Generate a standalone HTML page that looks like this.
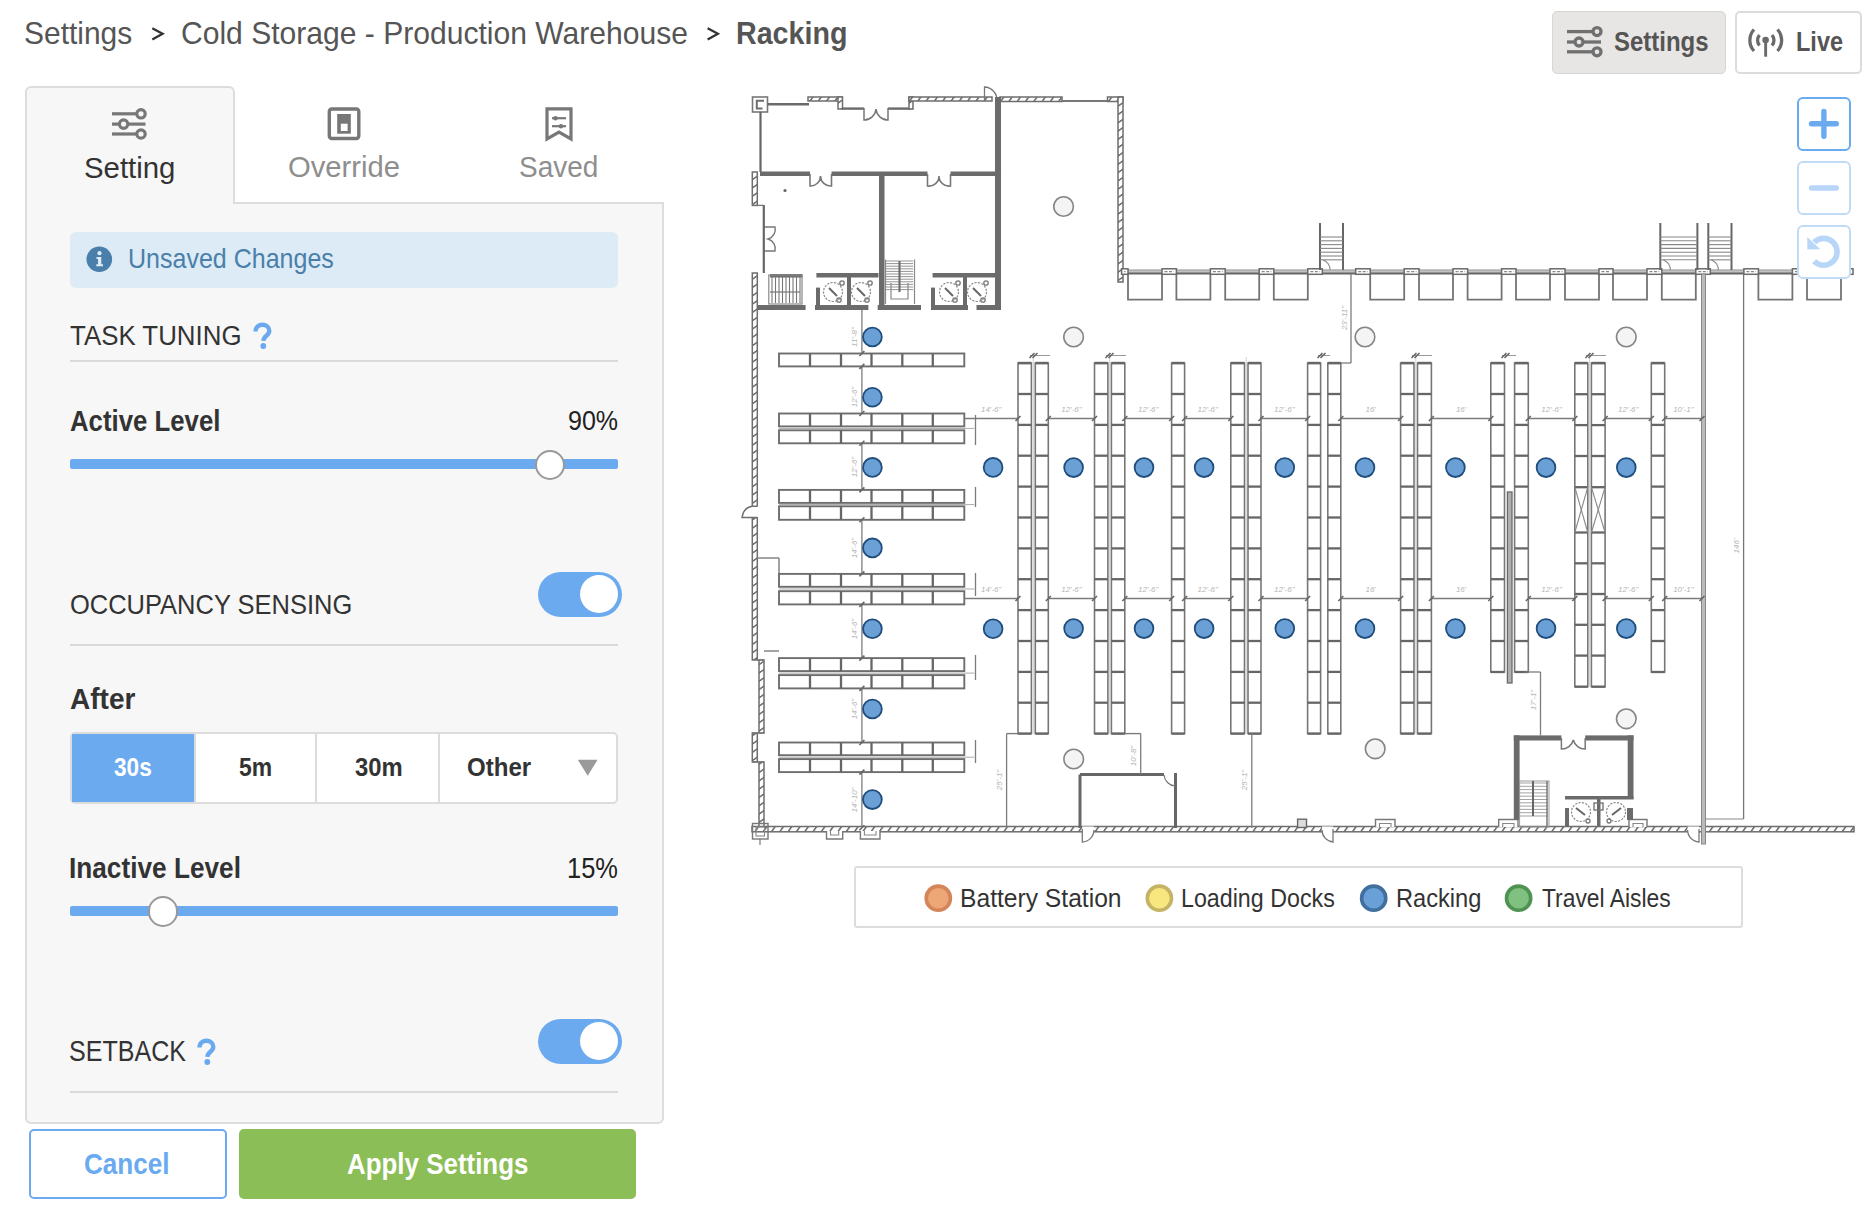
<!DOCTYPE html>
<html><head><meta charset="utf-8">
<style>
html,body{margin:0;padding:0;width:1872px;height:1216px;overflow:hidden;background:#fff;}
body{position:relative;font-family:"Liberation Sans",sans-serif;}
.t{position:absolute;white-space:nowrap;line-height:1;}
.abs{position:absolute;box-sizing:border-box;}
</style></head><body>
<svg class="abs" style="left:0;top:0" width="1872" height="1216" viewBox="0 0 1872 1216">
<defs>
<pattern id="hh" patternUnits="userSpaceOnUse" width="8.3" height="8" patternTransform="skewX(-35)">
<rect width="8.3" height="8" fill="#fff"/><rect x="0" width="2.0" height="8" fill="#707070"/></pattern>
<pattern id="hv" patternUnits="userSpaceOnUse" width="8" height="8.3" patternTransform="skewY(-35)">
<rect width="8" height="8.3" fill="#fff"/><rect y="0" width="8" height="1.9" fill="#707070"/></pattern>
</defs>
<rect x="752.5" y="97.0" width="15.0" height="15.0" fill="#fff" stroke="#777" stroke-width="1.6" />
<path d="M764,100.8 L756.8,100.8 L756.8,108.5 L762.5,108.5" stroke="#6e6e6e" stroke-width="2.0" fill="none" />
<line x1="767.5" y1="104.3" x2="809.0" y2="104.3" stroke="#6a6a6a" stroke-width="2.6" />
<rect x="808.0" y="97.0" width="34.0" height="4.0" fill="url(#hh)" stroke="#6e6e6e" stroke-width="1.5" />
<rect x="838.0" y="97.0" width="4.5" height="12.0" fill="url(#hv)" stroke="#6e6e6e" stroke-width="1.5" />
<line x1="842.0" y1="108.6" x2="864.0" y2="108.6" stroke="#6a6a6a" stroke-width="2.4" />
<line x1="888.0" y1="108.6" x2="911.0" y2="108.6" stroke="#6a6a6a" stroke-width="2.4" />
<path d="M864,108 L864,120 A12,12 0 0 0 876,109 A12,12 0 0 0 888,120 L888,108" stroke="#777" stroke-width="1.5" fill="none" />
<rect x="909.0" y="97.0" width="4.0" height="12.0" fill="url(#hv)" stroke="#6e6e6e" stroke-width="1.5" />
<rect x="909.0" y="97.0" width="83.0" height="4.0" fill="url(#hh)" stroke="#6e6e6e" stroke-width="1.5" />
<path d="M984.5,100 L984.5,87 A13,13 0 0 1 997,100" stroke="#777" stroke-width="1.3" fill="none" />
<rect x="1000.0" y="97.0" width="62.0" height="4.5" fill="url(#hh)" stroke="#6e6e6e" stroke-width="1.5" />
<line x1="1062.0" y1="101.0" x2="1107.5" y2="101.0" stroke="#777" stroke-width="2" />
<rect x="1107.5" y="97.0" width="15.5" height="4.5" fill="url(#hh)" stroke="#6e6e6e" stroke-width="1.5" />
<rect x="1118.0" y="97.0" width="5.0" height="185.0" fill="url(#hv)" stroke="#6e6e6e" stroke-width="1.5" />
<rect x="995.0" y="97.0" width="6.0" height="213.0" fill="#6b6b6b" stroke="none" stroke-width="0" />
<rect x="760.0" y="171.5" width="50.0" height="4.5" fill="#6b6b6b" stroke="none" stroke-width="0" />
<rect x="831.5" y="171.5" width="96.0" height="4.5" fill="#6b6b6b" stroke="none" stroke-width="0" />
<rect x="950.5" y="171.5" width="50.5" height="4.5" fill="#6b6b6b" stroke="none" stroke-width="0" />
<path d="M810,174 L810,186 A10,10 0 0 0 820.5,176 A10,10 0 0 0 831.5,186 L831.5,174" stroke="#777" stroke-width="1.6" fill="none" />
<path d="M927.5,174 L927.5,186 A10,10 0 0 0 939,176 A10,10 0 0 0 950.5,186 L950.5,174" stroke="#777" stroke-width="1.6" fill="none" />
<rect x="879.0" y="174.0" width="5.5" height="136.0" fill="#6b6b6b" stroke="none" stroke-width="0" />
<line x1="760.5" y1="112.0" x2="760.5" y2="172.0" stroke="#666" stroke-width="2.2" />
<rect x="756.6" y="305.0" width="49.0" height="5.0" fill="#6b6b6b" stroke="none" stroke-width="0" />
<rect x="815.0" y="305.0" width="53.4" height="5.0" fill="#6b6b6b" stroke="none" stroke-width="0" />
<rect x="877.7" y="305.0" width="43.3" height="5.0" fill="#6b6b6b" stroke="none" stroke-width="0" />
<rect x="931.0" y="305.0" width="37.0" height="5.0" fill="#6b6b6b" stroke="none" stroke-width="0" />
<rect x="976.5" y="305.0" width="24.5" height="5.0" fill="#6b6b6b" stroke="none" stroke-width="0" />
<rect x="816.4" y="273.0" width="62.1" height="4.5" fill="#6b6b6b" stroke="none" stroke-width="0" />
<rect x="932.6" y="273.0" width="64.4" height="4.5" fill="#6b6b6b" stroke="none" stroke-width="0" />
<rect x="847.0" y="275.0" width="4.0" height="33.0" fill="#6b6b6b" stroke="none" stroke-width="0" />
<rect x="963.0" y="275.0" width="4.0" height="33.0" fill="#6b6b6b" stroke="none" stroke-width="0" />
<rect x="816.0" y="287.6" width="4.0" height="20.4" fill="#6b6b6b" stroke="none" stroke-width="0" />
<rect x="931.0" y="287.6" width="4.0" height="20.4" fill="#6b6b6b" stroke="none" stroke-width="0" />
<circle cx="833" cy="292" r="9.5" fill="none" stroke="#8a8a8a" stroke-width="1.2" stroke-dasharray="2.2 1.3"/>
<line x1="829.0" y1="288.0" x2="837.0" y2="296.0" stroke="#666" stroke-width="2" />
<circle cx="839" cy="300" r="2.2" fill="none" stroke="#777" stroke-width="1.3"/>
<circle cx="842" cy="283" r="2.2" fill="none" stroke="#777" stroke-width="1.3"/>
<circle cx="861" cy="292" r="9.5" fill="none" stroke="#8a8a8a" stroke-width="1.2" stroke-dasharray="2.2 1.3"/>
<line x1="857.0" y1="288.0" x2="865.0" y2="296.0" stroke="#666" stroke-width="2" />
<circle cx="867" cy="300" r="2.2" fill="none" stroke="#777" stroke-width="1.3"/>
<circle cx="870" cy="283" r="2.2" fill="none" stroke="#777" stroke-width="1.3"/>
<circle cx="949" cy="292" r="9.5" fill="none" stroke="#8a8a8a" stroke-width="1.2" stroke-dasharray="2.2 1.3"/>
<line x1="945.0" y1="288.0" x2="953.0" y2="296.0" stroke="#666" stroke-width="2" />
<circle cx="955" cy="300" r="2.2" fill="none" stroke="#777" stroke-width="1.3"/>
<circle cx="958" cy="283" r="2.2" fill="none" stroke="#777" stroke-width="1.3"/>
<circle cx="977" cy="292" r="9.5" fill="none" stroke="#8a8a8a" stroke-width="1.2" stroke-dasharray="2.2 1.3"/>
<line x1="973.0" y1="288.0" x2="981.0" y2="296.0" stroke="#666" stroke-width="2" />
<circle cx="983" cy="300" r="2.2" fill="none" stroke="#777" stroke-width="1.3"/>
<circle cx="986" cy="283" r="2.2" fill="none" stroke="#777" stroke-width="1.3"/>
<rect x="770.0" y="274.0" width="32.5" height="3.5" fill="#6b6b6b" stroke="none" stroke-width="0" />
<rect x="768.8" y="275.0" width="33.2" height="29.0" fill="none" stroke="#888" stroke-width="1.2" />
<line x1="772.0" y1="276.0" x2="772.0" y2="303.0" stroke="#777" stroke-width="1.1" />
<line x1="775.5" y1="276.0" x2="775.5" y2="303.0" stroke="#777" stroke-width="1.1" />
<line x1="779.0" y1="276.0" x2="779.0" y2="303.0" stroke="#777" stroke-width="1.1" />
<line x1="782.5" y1="276.0" x2="782.5" y2="303.0" stroke="#777" stroke-width="1.1" />
<line x1="786.0" y1="276.0" x2="786.0" y2="303.0" stroke="#777" stroke-width="1.1" />
<line x1="789.5" y1="276.0" x2="789.5" y2="303.0" stroke="#777" stroke-width="1.1" />
<line x1="793.0" y1="276.0" x2="793.0" y2="303.0" stroke="#777" stroke-width="1.1" />
<line x1="796.5" y1="276.0" x2="796.5" y2="303.0" stroke="#777" stroke-width="1.1" />
<line x1="800.0" y1="276.0" x2="800.0" y2="303.0" stroke="#777" stroke-width="1.1" />
<line x1="770.0" y1="292.0" x2="800.0" y2="292.0" stroke="#777" stroke-width="1.2" />
<line x1="885.5" y1="259.5" x2="885.5" y2="304.0" stroke="#888" stroke-width="1.2" />
<line x1="914.5" y1="259.5" x2="914.5" y2="304.0" stroke="#888" stroke-width="1.2" />
<line x1="886.0" y1="261.0" x2="913.0" y2="261.0" stroke="#888" stroke-width="0.9" />
<line x1="886.0" y1="263.6" x2="913.0" y2="263.6" stroke="#888" stroke-width="0.9" />
<line x1="886.0" y1="266.2" x2="913.0" y2="266.2" stroke="#888" stroke-width="0.9" />
<line x1="886.0" y1="268.8" x2="913.0" y2="268.8" stroke="#888" stroke-width="0.9" />
<line x1="886.0" y1="271.4" x2="913.0" y2="271.4" stroke="#888" stroke-width="0.9" />
<line x1="886.0" y1="274.0" x2="913.0" y2="274.0" stroke="#888" stroke-width="0.9" />
<line x1="886.0" y1="276.6" x2="913.0" y2="276.6" stroke="#888" stroke-width="0.9" />
<line x1="886.0" y1="279.2" x2="913.0" y2="279.2" stroke="#888" stroke-width="0.9" />
<line x1="886.0" y1="281.8" x2="913.0" y2="281.8" stroke="#888" stroke-width="0.9" />
<line x1="886.0" y1="284.4" x2="913.0" y2="284.4" stroke="#888" stroke-width="0.9" />
<line x1="886.0" y1="287.0" x2="913.0" y2="287.0" stroke="#888" stroke-width="0.9" />
<line x1="886.0" y1="289.6" x2="913.0" y2="289.6" stroke="#888" stroke-width="0.9" />
<line x1="899.5" y1="261.0" x2="899.5" y2="292.0" stroke="#666" stroke-width="2" />
<path d="M891,283 L891,299 L908,299 L908,283" stroke="#888" stroke-width="1.2" fill="none" />
<path d="M763.8,227 L775,227 A10,10 0 0 1 768,239 A10,10 0 0 1 775,251 L763.8,251" stroke="#777" stroke-width="1.4" fill="none" />
<circle cx="785" cy="190.5" r="1.6" fill="#666"/>
<rect x="752.3" y="172.0" width="5.0" height="33.4" fill="url(#hv)" stroke="#6e6e6e" stroke-width="1.5" />
<line x1="763.8" y1="205.0" x2="763.8" y2="273.0" stroke="#666" stroke-width="2.2" />
<line x1="757.0" y1="205.4" x2="763.8" y2="205.4" stroke="#777" stroke-width="1.3" />
<rect x="752.3" y="273.0" width="5.0" height="387.0" fill="url(#hv)" stroke="#6e6e6e" stroke-width="1.5" />
<rect x="759.0" y="660.0" width="5.0" height="73.0" fill="url(#hv)" stroke="#6e6e6e" stroke-width="1.5" />
<rect x="752.3" y="733.0" width="5.0" height="29.0" fill="url(#hv)" stroke="#6e6e6e" stroke-width="1.5" />
<rect x="759.0" y="762.0" width="5.0" height="66.0" fill="url(#hv)" stroke="#6e6e6e" stroke-width="1.5" />
<line x1="757.0" y1="660.0" x2="764.0" y2="660.0" stroke="#777" stroke-width="1.3" />
<line x1="752.0" y1="733.0" x2="764.0" y2="733.0" stroke="#777" stroke-width="1.3" />
<line x1="752.0" y1="762.0" x2="764.0" y2="762.0" stroke="#777" stroke-width="1.3" />
<rect x="750.0" y="506.5" width="9.0" height="10.5" fill="#fff" stroke="none" stroke-width="0" />
<path d="M752.3,506.3 L757.3,506.3" stroke="#6e6e6e" stroke-width="1.5" fill="none" />
<path d="M752.3,506.3 C747,507 743,511 742,517.6 L757.3,517.6" stroke="#6e6e6e" stroke-width="1.5" fill="none" />
<rect x="752.0" y="826.5" width="1102.0" height="5.3" fill="url(#hh)" stroke="#6e6e6e" stroke-width="1.5" />
<rect x="752.5" y="823.5" width="15.5" height="15.5" fill="none" stroke="#777" stroke-width="1.4" />
<rect x="756.0" y="827.0" width="8.5" height="9.0" fill="none" stroke="#888" stroke-width="1.1" />
<line x1="760.0" y1="839.0" x2="760.0" y2="845.0" stroke="#777" stroke-width="1.2" />
<path d="M826.5,831 L826.5,839 L842.7,839 L842.7,831" stroke="#777" stroke-width="1.4" fill="#fff" />
<path d="M830.5,831 L830.5,835 L838.7,835 L838.7,831" stroke="#888" stroke-width="1.1" fill="none" />
<path d="M860.4,831 L860.4,839 L880,839 L880,831" stroke="#777" stroke-width="1.4" fill="#fff" />
<path d="M864.4,831 L864.4,835 L876,835 L876,831" stroke="#888" stroke-width="1.1" fill="none" />
<path d="M1375.5,827 L1375.5,819.5 L1395,819.5 L1395,827" stroke="#777" stroke-width="1.4" fill="#fff" />
<path d="M1379.5,827 L1379.5,823.5 L1391,823.5 L1391,827" stroke="#888" stroke-width="1.1" fill="none" />
<path d="M1498.7,827 L1498.7,819.5 L1518,819.5 L1518,827" stroke="#777" stroke-width="1.4" fill="#fff" />
<path d="M1502.7,827 L1502.7,823.5 L1514,823.5 L1514,827" stroke="#888" stroke-width="1.1" fill="none" />
<path d="M1629,827 L1629,819.5 L1647,819.5 L1647,827" stroke="#777" stroke-width="1.4" fill="#fff" />
<path d="M1633,827 L1633,823.5 L1643,823.5 L1643,827" stroke="#888" stroke-width="1.1" fill="none" />
<rect x="1297.6" y="819.2" width="8.9" height="8.3" fill="#ddd" stroke="#666" stroke-width="1.4" />
<rect x="1082.3" y="826.5" width="11.6" height="6.5" fill="#fff" stroke="none" stroke-width="0" />
<path d="M1082.3,829 L1082.3,842 A12,12 0 0 0 1093.9,830" stroke="#777" stroke-width="1.3" fill="none" />
<rect x="1322.0" y="826.5" width="11.0" height="6.5" fill="#fff" stroke="none" stroke-width="0" />
<path d="M1333,829 L1333,842 A12,12 0 0 1 1322,830" stroke="#777" stroke-width="1.3" fill="none" />
<rect x="1687.6" y="826.5" width="11.4" height="6.5" fill="#fff" stroke="none" stroke-width="0" />
<path d="M1699,829 L1699,842 A12,12 0 0 1 1687.6,830" stroke="#777" stroke-width="1.3" fill="none" />
<rect x="1121.6" y="269.6" width="731.4" height="3.4" fill="#c2c2c2" stroke="none" stroke-width="0" />
<line x1="1121.6" y1="270.0" x2="1853.0" y2="270.0" stroke="#9a9a9a" stroke-width="0.9" />
<line x1="1121.6" y1="273.4" x2="1853.0" y2="273.4" stroke="#666" stroke-width="2.0" />
<path d="M1128,274 L1128,299.7 L1162,299.7 L1162,274" stroke="#747474" stroke-width="1.8" fill="none" />
<path d="M1176.4,274 L1176.4,299.7 L1210.4,299.7 L1210.4,274" stroke="#747474" stroke-width="1.8" fill="none" />
<path d="M1225.2,274 L1225.2,299.7 L1259.2,299.7 L1259.2,274" stroke="#747474" stroke-width="1.8" fill="none" />
<path d="M1273.8,274 L1273.8,299.7 L1307.8,299.7 L1307.8,274" stroke="#747474" stroke-width="1.8" fill="none" />
<path d="M1370.2,274 L1370.2,299.7 L1404.2,299.7 L1404.2,274" stroke="#747474" stroke-width="1.8" fill="none" />
<path d="M1419,274 L1419,299.7 L1453,299.7 L1453,274" stroke="#747474" stroke-width="1.8" fill="none" />
<path d="M1467.6,274 L1467.6,299.7 L1501.6,299.7 L1501.6,274" stroke="#747474" stroke-width="1.8" fill="none" />
<path d="M1516,274 L1516,299.7 L1550,299.7 L1550,274" stroke="#747474" stroke-width="1.8" fill="none" />
<path d="M1565,274 L1565,299.7 L1599,299.7 L1599,274" stroke="#747474" stroke-width="1.8" fill="none" />
<path d="M1613,274 L1613,299.7 L1647,299.7 L1647,274" stroke="#747474" stroke-width="1.8" fill="none" />
<path d="M1661.8,274 L1661.8,299.7 L1695.8,299.7 L1695.8,274" stroke="#747474" stroke-width="1.8" fill="none" />
<path d="M1758.4,274 L1758.4,299.7 L1792.4,299.7 L1792.4,274" stroke="#747474" stroke-width="1.8" fill="none" />
<path d="M1807,274 L1807,299.7 L1841,299.7 L1841,274" stroke="#747474" stroke-width="1.8" fill="none" />
<rect x="1121.6" y="268.8" width="6.4" height="5.5" fill="#fff" stroke="#6a6a6a" stroke-width="1.5" />
<line x1="1124.1" y1="271.6" x2="1125.5" y2="271.6" stroke="#888" stroke-width="1.2" stroke-dasharray="3 1.5"/>
<rect x="1162.0" y="268.8" width="14.4" height="5.5" fill="#fff" stroke="#6a6a6a" stroke-width="1.5" />
<line x1="1164.5" y1="271.6" x2="1173.9" y2="271.6" stroke="#888" stroke-width="1.2" stroke-dasharray="3 1.5"/>
<rect x="1210.4" y="268.8" width="14.8" height="5.5" fill="#fff" stroke="#6a6a6a" stroke-width="1.5" />
<line x1="1212.9" y1="271.6" x2="1222.7" y2="271.6" stroke="#888" stroke-width="1.2" stroke-dasharray="3 1.5"/>
<rect x="1259.2" y="268.8" width="14.6" height="5.5" fill="#fff" stroke="#6a6a6a" stroke-width="1.5" />
<line x1="1261.7" y1="271.6" x2="1271.3" y2="271.6" stroke="#888" stroke-width="1.2" stroke-dasharray="3 1.5"/>
<rect x="1307.8" y="268.8" width="14.5" height="5.5" fill="#fff" stroke="#6a6a6a" stroke-width="1.5" />
<line x1="1310.3" y1="271.6" x2="1319.8" y2="271.6" stroke="#888" stroke-width="1.2" stroke-dasharray="3 1.5"/>
<rect x="1355.7" y="268.8" width="14.5" height="5.5" fill="#fff" stroke="#6a6a6a" stroke-width="1.5" />
<line x1="1358.2" y1="271.6" x2="1367.7" y2="271.6" stroke="#888" stroke-width="1.2" stroke-dasharray="3 1.5"/>
<rect x="1404.2" y="268.8" width="14.8" height="5.5" fill="#fff" stroke="#6a6a6a" stroke-width="1.5" />
<line x1="1406.7" y1="271.6" x2="1416.5" y2="271.6" stroke="#888" stroke-width="1.2" stroke-dasharray="3 1.5"/>
<rect x="1453.0" y="268.8" width="14.6" height="5.5" fill="#fff" stroke="#6a6a6a" stroke-width="1.5" />
<line x1="1455.5" y1="271.6" x2="1465.1" y2="271.6" stroke="#888" stroke-width="1.2" stroke-dasharray="3 1.5"/>
<rect x="1501.6" y="268.8" width="14.4" height="5.5" fill="#fff" stroke="#6a6a6a" stroke-width="1.5" />
<line x1="1504.1" y1="271.6" x2="1513.5" y2="271.6" stroke="#888" stroke-width="1.2" stroke-dasharray="3 1.5"/>
<rect x="1550.0" y="268.8" width="15.0" height="5.5" fill="#fff" stroke="#6a6a6a" stroke-width="1.5" />
<line x1="1552.5" y1="271.6" x2="1562.5" y2="271.6" stroke="#888" stroke-width="1.2" stroke-dasharray="3 1.5"/>
<rect x="1599.0" y="268.8" width="14.0" height="5.5" fill="#fff" stroke="#6a6a6a" stroke-width="1.5" />
<line x1="1601.5" y1="271.6" x2="1610.5" y2="271.6" stroke="#888" stroke-width="1.2" stroke-dasharray="3 1.5"/>
<rect x="1647.0" y="268.8" width="14.8" height="5.5" fill="#fff" stroke="#6a6a6a" stroke-width="1.5" />
<line x1="1649.5" y1="271.6" x2="1659.3" y2="271.6" stroke="#888" stroke-width="1.2" stroke-dasharray="3 1.5"/>
<rect x="1695.8" y="268.8" width="14.5" height="5.5" fill="#fff" stroke="#6a6a6a" stroke-width="1.5" />
<line x1="1698.3" y1="271.6" x2="1707.8" y2="271.6" stroke="#888" stroke-width="1.2" stroke-dasharray="3 1.5"/>
<rect x="1743.9" y="268.8" width="14.5" height="5.5" fill="#fff" stroke="#6a6a6a" stroke-width="1.5" />
<line x1="1746.4" y1="271.6" x2="1755.9" y2="271.6" stroke="#888" stroke-width="1.2" stroke-dasharray="3 1.5"/>
<rect x="1792.4" y="268.8" width="14.6" height="5.5" fill="#fff" stroke="#6a6a6a" stroke-width="1.5" />
<line x1="1794.9" y1="271.6" x2="1804.5" y2="271.6" stroke="#888" stroke-width="1.2" stroke-dasharray="3 1.5"/>
<rect x="1841.0" y="268.8" width="12.0" height="5.5" fill="#fff" stroke="#6a6a6a" stroke-width="1.5" />
<line x1="1843.5" y1="271.6" x2="1850.5" y2="271.6" stroke="#888" stroke-width="1.2" stroke-dasharray="3 1.5"/>
<line x1="1320.0" y1="223.0" x2="1320.0" y2="270.0" stroke="#666" stroke-width="2" />
<line x1="1343.0" y1="223.0" x2="1343.0" y2="270.0" stroke="#666" stroke-width="2" />
<line x1="1320.0" y1="237.0" x2="1343.0" y2="237.0" stroke="#888" stroke-width="1.1" />
<line x1="1320.0" y1="240.8" x2="1343.0" y2="240.8" stroke="#888" stroke-width="1.1" />
<line x1="1320.0" y1="244.6" x2="1343.0" y2="244.6" stroke="#888" stroke-width="1.1" />
<line x1="1320.0" y1="248.4" x2="1343.0" y2="248.4" stroke="#888" stroke-width="1.1" />
<line x1="1320.0" y1="252.2" x2="1343.0" y2="252.2" stroke="#888" stroke-width="1.1" />
<line x1="1320.0" y1="256.0" x2="1343.0" y2="256.0" stroke="#888" stroke-width="1.1" />
<line x1="1320.0" y1="259.8" x2="1343.0" y2="259.8" stroke="#888" stroke-width="1.1" />
<path d="M1323,260 A10,10 0 0 1 1330,270" stroke="#888" stroke-width="1.1" fill="none" />
<line x1="1660.3" y1="223.0" x2="1660.3" y2="270.0" stroke="#666" stroke-width="2" />
<line x1="1697.4" y1="223.0" x2="1697.4" y2="270.0" stroke="#666" stroke-width="2" />
<line x1="1660.3" y1="237.0" x2="1697.4" y2="237.0" stroke="#888" stroke-width="1.1" />
<line x1="1660.3" y1="240.8" x2="1697.4" y2="240.8" stroke="#888" stroke-width="1.1" />
<line x1="1660.3" y1="244.6" x2="1697.4" y2="244.6" stroke="#888" stroke-width="1.1" />
<line x1="1660.3" y1="248.4" x2="1697.4" y2="248.4" stroke="#888" stroke-width="1.1" />
<line x1="1660.3" y1="252.2" x2="1697.4" y2="252.2" stroke="#888" stroke-width="1.1" />
<line x1="1660.3" y1="256.0" x2="1697.4" y2="256.0" stroke="#888" stroke-width="1.1" />
<line x1="1660.3" y1="259.8" x2="1697.4" y2="259.8" stroke="#888" stroke-width="1.1" />
<path d="M1663.3,260 A10,10 0 0 1 1670.3,270" stroke="#888" stroke-width="1.1" fill="none" />
<line x1="1708.3" y1="223.0" x2="1708.3" y2="270.0" stroke="#666" stroke-width="2" />
<line x1="1731.5" y1="223.0" x2="1731.5" y2="270.0" stroke="#666" stroke-width="2" />
<line x1="1708.3" y1="237.0" x2="1731.5" y2="237.0" stroke="#888" stroke-width="1.1" />
<line x1="1708.3" y1="240.8" x2="1731.5" y2="240.8" stroke="#888" stroke-width="1.1" />
<line x1="1708.3" y1="244.6" x2="1731.5" y2="244.6" stroke="#888" stroke-width="1.1" />
<line x1="1708.3" y1="248.4" x2="1731.5" y2="248.4" stroke="#888" stroke-width="1.1" />
<line x1="1708.3" y1="252.2" x2="1731.5" y2="252.2" stroke="#888" stroke-width="1.1" />
<line x1="1708.3" y1="256.0" x2="1731.5" y2="256.0" stroke="#888" stroke-width="1.1" />
<line x1="1708.3" y1="259.8" x2="1731.5" y2="259.8" stroke="#888" stroke-width="1.1" />
<path d="M1711.3,260 A10,10 0 0 1 1718.3,270" stroke="#888" stroke-width="1.1" fill="none" />
<rect x="1701.5" y="274.0" width="4.0" height="570.0" fill="#bbb" stroke="#888" stroke-width="1.0" />
<line x1="1743.6" y1="274.0" x2="1743.6" y2="819.0" stroke="#777" stroke-width="1.3" />
<line x1="1705.0" y1="819.0" x2="1743.6" y2="819.0" stroke="#888" stroke-width="1" />
<rect x="1513.8" y="735.4" width="5.8" height="84.4" fill="#6b6b6b" stroke="none" stroke-width="0" />
<rect x="1513.8" y="735.4" width="47.6" height="5.1" fill="#6b6b6b" stroke="none" stroke-width="0" />
<rect x="1585.2" y="735.4" width="48.3" height="5.1" fill="#6b6b6b" stroke="none" stroke-width="0" />
<path d="M1561.4,738 L1561.4,749 A12,12 0 0 0 1573.3,740 A12,12 0 0 0 1585.2,749 L1585.2,738" stroke="#777" stroke-width="1.5" fill="none" />
<rect x="1627.7" y="735.4" width="5.8" height="63.6" fill="#6b6b6b" stroke="none" stroke-width="0" />
<rect x="1565.0" y="796.0" width="68.5" height="3.5" fill="#6b6b6b" stroke="none" stroke-width="0" />
<rect x="1565.0" y="808.0" width="4.0" height="19.0" fill="#6b6b6b" stroke="none" stroke-width="0" />
<rect x="1627.0" y="808.0" width="6.0" height="12.0" fill="#6b6b6b" stroke="none" stroke-width="0" />
<rect x="1597.0" y="799.0" width="3.5" height="28.0" fill="#6b6b6b" stroke="none" stroke-width="0" />
<circle cx="1581" cy="812" r="9.5" fill="none" stroke="#8a8a8a" stroke-width="1.2" stroke-dasharray="2.2 1.3"/>
<line x1="1576.0" y1="808.0" x2="1585.0" y2="815.0" stroke="#666" stroke-width="2" />
<circle cx="1588" cy="821" r="2" fill="none" stroke="#777" stroke-width="1.3"/>
<circle cx="1616" cy="812" r="9.5" fill="none" stroke="#8a8a8a" stroke-width="1.2" stroke-dasharray="2.2 1.3"/>
<line x1="1621.0" y1="808.0" x2="1612.0" y2="815.0" stroke="#666" stroke-width="2" />
<circle cx="1609" cy="821" r="2" fill="none" stroke="#777" stroke-width="1.3"/>
<rect x="1594.0" y="803.0" width="9.0" height="7.0" fill="none" stroke="#777" stroke-width="1.4" />
<rect x="1519.6" y="781.0" width="29.4" height="46.0" fill="none" stroke="#999" stroke-width="1" />
<line x1="1520.0" y1="783.0" x2="1548.0" y2="783.0" stroke="#999" stroke-width="0.9" />
<line x1="1520.0" y1="786.3" x2="1548.0" y2="786.3" stroke="#999" stroke-width="0.9" />
<line x1="1520.0" y1="789.6" x2="1548.0" y2="789.6" stroke="#999" stroke-width="0.9" />
<line x1="1520.0" y1="792.9" x2="1548.0" y2="792.9" stroke="#999" stroke-width="0.9" />
<line x1="1520.0" y1="796.2" x2="1548.0" y2="796.2" stroke="#999" stroke-width="0.9" />
<line x1="1520.0" y1="799.5" x2="1548.0" y2="799.5" stroke="#999" stroke-width="0.9" />
<line x1="1520.0" y1="802.8" x2="1548.0" y2="802.8" stroke="#999" stroke-width="0.9" />
<line x1="1520.0" y1="806.1" x2="1548.0" y2="806.1" stroke="#999" stroke-width="0.9" />
<line x1="1520.0" y1="809.4" x2="1548.0" y2="809.4" stroke="#999" stroke-width="0.9" />
<line x1="1520.0" y1="812.7" x2="1548.0" y2="812.7" stroke="#999" stroke-width="0.9" />
<line x1="1520.0" y1="816.0" x2="1548.0" y2="816.0" stroke="#999" stroke-width="0.9" />
<line x1="1533.0" y1="781.0" x2="1533.0" y2="816.0" stroke="#666" stroke-width="2" />
<line x1="1547.0" y1="781.0" x2="1547.0" y2="827.0" stroke="#777" stroke-width="1.5" />
<line x1="1080.0" y1="774.5" x2="1164.0" y2="774.5" stroke="#666" stroke-width="3" />
<line x1="1080.0" y1="774.5" x2="1080.0" y2="828.0" stroke="#666" stroke-width="3" />
<line x1="1175.5" y1="773.0" x2="1175.5" y2="828.0" stroke="#666" stroke-width="3" />
<path d="M1164,775 A12,12 0 0 0 1175,786" stroke="#777" stroke-width="1.2" fill="none" />
<rect x="779.0" y="353.5" width="185.3" height="12.9" fill="none" stroke="#6e6e6e" stroke-width="1.9" />
<line x1="810.0" y1="353.5" x2="810.0" y2="366.4" stroke="#666" stroke-width="2.3" />
<line x1="841.0" y1="353.5" x2="841.0" y2="366.4" stroke="#666" stroke-width="2.3" />
<line x1="871.5" y1="353.5" x2="871.5" y2="366.4" stroke="#666" stroke-width="2.3" />
<line x1="902.3" y1="353.5" x2="902.3" y2="366.4" stroke="#666" stroke-width="2.3" />
<line x1="932.8" y1="353.5" x2="932.8" y2="366.4" stroke="#666" stroke-width="2.3" />
<rect x="779.0" y="413.5" width="185.3" height="12.9" fill="none" stroke="#6e6e6e" stroke-width="1.9" />
<line x1="810.0" y1="413.5" x2="810.0" y2="426.4" stroke="#666" stroke-width="2.3" />
<line x1="841.0" y1="413.5" x2="841.0" y2="426.4" stroke="#666" stroke-width="2.3" />
<line x1="871.5" y1="413.5" x2="871.5" y2="426.4" stroke="#666" stroke-width="2.3" />
<line x1="902.3" y1="413.5" x2="902.3" y2="426.4" stroke="#666" stroke-width="2.3" />
<line x1="932.8" y1="413.5" x2="932.8" y2="426.4" stroke="#666" stroke-width="2.3" />
<rect x="779.0" y="430.3" width="185.3" height="13.0" fill="none" stroke="#6e6e6e" stroke-width="1.9" />
<line x1="810.0" y1="430.3" x2="810.0" y2="443.3" stroke="#666" stroke-width="2.3" />
<line x1="841.0" y1="430.3" x2="841.0" y2="443.3" stroke="#666" stroke-width="2.3" />
<line x1="871.5" y1="430.3" x2="871.5" y2="443.3" stroke="#666" stroke-width="2.3" />
<line x1="902.3" y1="430.3" x2="902.3" y2="443.3" stroke="#666" stroke-width="2.3" />
<line x1="932.8" y1="430.3" x2="932.8" y2="443.3" stroke="#666" stroke-width="2.3" />
<line x1="779.0" y1="428.4" x2="974.3" y2="428.4" stroke="#aaa" stroke-width="1" />
<rect x="779.0" y="489.9" width="185.3" height="13.0" fill="none" stroke="#6e6e6e" stroke-width="1.9" />
<line x1="810.0" y1="489.9" x2="810.0" y2="502.9" stroke="#666" stroke-width="2.3" />
<line x1="841.0" y1="489.9" x2="841.0" y2="502.9" stroke="#666" stroke-width="2.3" />
<line x1="871.5" y1="489.9" x2="871.5" y2="502.9" stroke="#666" stroke-width="2.3" />
<line x1="902.3" y1="489.9" x2="902.3" y2="502.9" stroke="#666" stroke-width="2.3" />
<line x1="932.8" y1="489.9" x2="932.8" y2="502.9" stroke="#666" stroke-width="2.3" />
<rect x="779.0" y="506.3" width="185.3" height="13.5" fill="none" stroke="#6e6e6e" stroke-width="1.9" />
<line x1="810.0" y1="506.3" x2="810.0" y2="519.8" stroke="#666" stroke-width="2.3" />
<line x1="841.0" y1="506.3" x2="841.0" y2="519.8" stroke="#666" stroke-width="2.3" />
<line x1="871.5" y1="506.3" x2="871.5" y2="519.8" stroke="#666" stroke-width="2.3" />
<line x1="902.3" y1="506.3" x2="902.3" y2="519.8" stroke="#666" stroke-width="2.3" />
<line x1="932.8" y1="506.3" x2="932.8" y2="519.8" stroke="#666" stroke-width="2.3" />
<line x1="779.0" y1="504.6" x2="974.3" y2="504.6" stroke="#aaa" stroke-width="1" />
<rect x="779.0" y="573.9" width="185.3" height="12.9" fill="none" stroke="#6e6e6e" stroke-width="1.9" />
<line x1="810.0" y1="573.9" x2="810.0" y2="586.8" stroke="#666" stroke-width="2.3" />
<line x1="841.0" y1="573.9" x2="841.0" y2="586.8" stroke="#666" stroke-width="2.3" />
<line x1="871.5" y1="573.9" x2="871.5" y2="586.8" stroke="#666" stroke-width="2.3" />
<line x1="902.3" y1="573.9" x2="902.3" y2="586.8" stroke="#666" stroke-width="2.3" />
<line x1="932.8" y1="573.9" x2="932.8" y2="586.8" stroke="#666" stroke-width="2.3" />
<rect x="779.0" y="591.2" width="185.3" height="13.2" fill="none" stroke="#6e6e6e" stroke-width="1.9" />
<line x1="810.0" y1="591.2" x2="810.0" y2="604.4" stroke="#666" stroke-width="2.3" />
<line x1="841.0" y1="591.2" x2="841.0" y2="604.4" stroke="#666" stroke-width="2.3" />
<line x1="871.5" y1="591.2" x2="871.5" y2="604.4" stroke="#666" stroke-width="2.3" />
<line x1="902.3" y1="591.2" x2="902.3" y2="604.4" stroke="#666" stroke-width="2.3" />
<line x1="932.8" y1="591.2" x2="932.8" y2="604.4" stroke="#666" stroke-width="2.3" />
<line x1="779.0" y1="589.0" x2="974.3" y2="589.0" stroke="#aaa" stroke-width="1" />
<rect x="779.0" y="658.1" width="185.3" height="13.0" fill="none" stroke="#6e6e6e" stroke-width="1.9" />
<line x1="810.0" y1="658.1" x2="810.0" y2="671.1" stroke="#666" stroke-width="2.3" />
<line x1="841.0" y1="658.1" x2="841.0" y2="671.1" stroke="#666" stroke-width="2.3" />
<line x1="871.5" y1="658.1" x2="871.5" y2="671.1" stroke="#666" stroke-width="2.3" />
<line x1="902.3" y1="658.1" x2="902.3" y2="671.1" stroke="#666" stroke-width="2.3" />
<line x1="932.8" y1="658.1" x2="932.8" y2="671.1" stroke="#666" stroke-width="2.3" />
<rect x="779.0" y="675.1" width="185.3" height="13.3" fill="none" stroke="#6e6e6e" stroke-width="1.9" />
<line x1="810.0" y1="675.1" x2="810.0" y2="688.4" stroke="#666" stroke-width="2.3" />
<line x1="841.0" y1="675.1" x2="841.0" y2="688.4" stroke="#666" stroke-width="2.3" />
<line x1="871.5" y1="675.1" x2="871.5" y2="688.4" stroke="#666" stroke-width="2.3" />
<line x1="902.3" y1="675.1" x2="902.3" y2="688.4" stroke="#666" stroke-width="2.3" />
<line x1="932.8" y1="675.1" x2="932.8" y2="688.4" stroke="#666" stroke-width="2.3" />
<line x1="779.0" y1="673.1" x2="974.3" y2="673.1" stroke="#aaa" stroke-width="1" />
<rect x="779.0" y="742.5" width="185.3" height="12.7" fill="none" stroke="#6e6e6e" stroke-width="1.9" />
<line x1="810.0" y1="742.5" x2="810.0" y2="755.2" stroke="#666" stroke-width="2.3" />
<line x1="841.0" y1="742.5" x2="841.0" y2="755.2" stroke="#666" stroke-width="2.3" />
<line x1="871.5" y1="742.5" x2="871.5" y2="755.2" stroke="#666" stroke-width="2.3" />
<line x1="902.3" y1="742.5" x2="902.3" y2="755.2" stroke="#666" stroke-width="2.3" />
<line x1="932.8" y1="742.5" x2="932.8" y2="755.2" stroke="#666" stroke-width="2.3" />
<rect x="779.0" y="759.1" width="185.3" height="13.0" fill="none" stroke="#6e6e6e" stroke-width="1.9" />
<line x1="810.0" y1="759.1" x2="810.0" y2="772.1" stroke="#666" stroke-width="2.3" />
<line x1="841.0" y1="759.1" x2="841.0" y2="772.1" stroke="#666" stroke-width="2.3" />
<line x1="871.5" y1="759.1" x2="871.5" y2="772.1" stroke="#666" stroke-width="2.3" />
<line x1="902.3" y1="759.1" x2="902.3" y2="772.1" stroke="#666" stroke-width="2.3" />
<line x1="932.8" y1="759.1" x2="932.8" y2="772.1" stroke="#666" stroke-width="2.3" />
<line x1="779.0" y1="757.2" x2="974.3" y2="757.2" stroke="#aaa" stroke-width="1" />
<rect x="1018.0" y="363.1" width="13.4" height="370.5" fill="none" stroke="#777" stroke-width="1.6" />
<line x1="1018.0" y1="394.0" x2="1031.4" y2="394.0" stroke="#666" stroke-width="2.3" />
<line x1="1018.0" y1="424.9" x2="1031.4" y2="424.9" stroke="#666" stroke-width="2.3" />
<line x1="1018.0" y1="455.7" x2="1031.4" y2="455.7" stroke="#666" stroke-width="2.3" />
<line x1="1018.0" y1="486.6" x2="1031.4" y2="486.6" stroke="#666" stroke-width="2.3" />
<line x1="1018.0" y1="517.5" x2="1031.4" y2="517.5" stroke="#666" stroke-width="2.3" />
<line x1="1018.0" y1="548.4" x2="1031.4" y2="548.4" stroke="#666" stroke-width="2.3" />
<line x1="1018.0" y1="579.2" x2="1031.4" y2="579.2" stroke="#666" stroke-width="2.3" />
<line x1="1018.0" y1="610.1" x2="1031.4" y2="610.1" stroke="#666" stroke-width="2.3" />
<line x1="1018.0" y1="641.0" x2="1031.4" y2="641.0" stroke="#666" stroke-width="2.3" />
<line x1="1018.0" y1="671.9" x2="1031.4" y2="671.9" stroke="#666" stroke-width="2.3" />
<line x1="1018.0" y1="702.7" x2="1031.4" y2="702.7" stroke="#666" stroke-width="2.3" />
<line x1="1018.0" y1="363.1" x2="1031.4" y2="363.1" stroke="#666" stroke-width="2.6" />
<line x1="1018.0" y1="733.6" x2="1031.4" y2="733.6" stroke="#666" stroke-width="2.3" />
<rect x="1035.3" y="363.1" width="13.0" height="370.5" fill="none" stroke="#777" stroke-width="1.6" />
<line x1="1035.3" y1="394.0" x2="1048.3" y2="394.0" stroke="#666" stroke-width="2.3" />
<line x1="1035.3" y1="424.9" x2="1048.3" y2="424.9" stroke="#666" stroke-width="2.3" />
<line x1="1035.3" y1="455.7" x2="1048.3" y2="455.7" stroke="#666" stroke-width="2.3" />
<line x1="1035.3" y1="486.6" x2="1048.3" y2="486.6" stroke="#666" stroke-width="2.3" />
<line x1="1035.3" y1="517.5" x2="1048.3" y2="517.5" stroke="#666" stroke-width="2.3" />
<line x1="1035.3" y1="548.4" x2="1048.3" y2="548.4" stroke="#666" stroke-width="2.3" />
<line x1="1035.3" y1="579.2" x2="1048.3" y2="579.2" stroke="#666" stroke-width="2.3" />
<line x1="1035.3" y1="610.1" x2="1048.3" y2="610.1" stroke="#666" stroke-width="2.3" />
<line x1="1035.3" y1="641.0" x2="1048.3" y2="641.0" stroke="#666" stroke-width="2.3" />
<line x1="1035.3" y1="671.9" x2="1048.3" y2="671.9" stroke="#666" stroke-width="2.3" />
<line x1="1035.3" y1="702.7" x2="1048.3" y2="702.7" stroke="#666" stroke-width="2.3" />
<line x1="1035.3" y1="363.1" x2="1048.3" y2="363.1" stroke="#666" stroke-width="2.6" />
<line x1="1035.3" y1="733.6" x2="1048.3" y2="733.6" stroke="#666" stroke-width="2.3" />
<line x1="1033.3" y1="357.1" x2="1033.3" y2="733.6" stroke="#c4c4c4" stroke-width="0.8" />
<rect x="1094.5" y="363.1" width="13.4" height="370.5" fill="none" stroke="#777" stroke-width="1.6" />
<line x1="1094.5" y1="394.0" x2="1107.9" y2="394.0" stroke="#666" stroke-width="2.3" />
<line x1="1094.5" y1="424.9" x2="1107.9" y2="424.9" stroke="#666" stroke-width="2.3" />
<line x1="1094.5" y1="455.7" x2="1107.9" y2="455.7" stroke="#666" stroke-width="2.3" />
<line x1="1094.5" y1="486.6" x2="1107.9" y2="486.6" stroke="#666" stroke-width="2.3" />
<line x1="1094.5" y1="517.5" x2="1107.9" y2="517.5" stroke="#666" stroke-width="2.3" />
<line x1="1094.5" y1="548.4" x2="1107.9" y2="548.4" stroke="#666" stroke-width="2.3" />
<line x1="1094.5" y1="579.2" x2="1107.9" y2="579.2" stroke="#666" stroke-width="2.3" />
<line x1="1094.5" y1="610.1" x2="1107.9" y2="610.1" stroke="#666" stroke-width="2.3" />
<line x1="1094.5" y1="641.0" x2="1107.9" y2="641.0" stroke="#666" stroke-width="2.3" />
<line x1="1094.5" y1="671.9" x2="1107.9" y2="671.9" stroke="#666" stroke-width="2.3" />
<line x1="1094.5" y1="702.7" x2="1107.9" y2="702.7" stroke="#666" stroke-width="2.3" />
<line x1="1094.5" y1="363.1" x2="1107.9" y2="363.1" stroke="#666" stroke-width="2.6" />
<line x1="1094.5" y1="733.6" x2="1107.9" y2="733.6" stroke="#666" stroke-width="2.3" />
<rect x="1111.4" y="363.1" width="13.4" height="370.5" fill="none" stroke="#777" stroke-width="1.6" />
<line x1="1111.4" y1="394.0" x2="1124.8" y2="394.0" stroke="#666" stroke-width="2.3" />
<line x1="1111.4" y1="424.9" x2="1124.8" y2="424.9" stroke="#666" stroke-width="2.3" />
<line x1="1111.4" y1="455.7" x2="1124.8" y2="455.7" stroke="#666" stroke-width="2.3" />
<line x1="1111.4" y1="486.6" x2="1124.8" y2="486.6" stroke="#666" stroke-width="2.3" />
<line x1="1111.4" y1="517.5" x2="1124.8" y2="517.5" stroke="#666" stroke-width="2.3" />
<line x1="1111.4" y1="548.4" x2="1124.8" y2="548.4" stroke="#666" stroke-width="2.3" />
<line x1="1111.4" y1="579.2" x2="1124.8" y2="579.2" stroke="#666" stroke-width="2.3" />
<line x1="1111.4" y1="610.1" x2="1124.8" y2="610.1" stroke="#666" stroke-width="2.3" />
<line x1="1111.4" y1="641.0" x2="1124.8" y2="641.0" stroke="#666" stroke-width="2.3" />
<line x1="1111.4" y1="671.9" x2="1124.8" y2="671.9" stroke="#666" stroke-width="2.3" />
<line x1="1111.4" y1="702.7" x2="1124.8" y2="702.7" stroke="#666" stroke-width="2.3" />
<line x1="1111.4" y1="363.1" x2="1124.8" y2="363.1" stroke="#666" stroke-width="2.6" />
<line x1="1111.4" y1="733.6" x2="1124.8" y2="733.6" stroke="#666" stroke-width="2.3" />
<line x1="1109.7" y1="357.1" x2="1109.7" y2="733.6" stroke="#c4c4c4" stroke-width="0.8" />
<rect x="1171.6" y="363.1" width="13.0" height="370.5" fill="none" stroke="#777" stroke-width="1.6" />
<line x1="1171.6" y1="394.0" x2="1184.6" y2="394.0" stroke="#666" stroke-width="2.3" />
<line x1="1171.6" y1="424.9" x2="1184.6" y2="424.9" stroke="#666" stroke-width="2.3" />
<line x1="1171.6" y1="455.7" x2="1184.6" y2="455.7" stroke="#666" stroke-width="2.3" />
<line x1="1171.6" y1="486.6" x2="1184.6" y2="486.6" stroke="#666" stroke-width="2.3" />
<line x1="1171.6" y1="517.5" x2="1184.6" y2="517.5" stroke="#666" stroke-width="2.3" />
<line x1="1171.6" y1="548.4" x2="1184.6" y2="548.4" stroke="#666" stroke-width="2.3" />
<line x1="1171.6" y1="579.2" x2="1184.6" y2="579.2" stroke="#666" stroke-width="2.3" />
<line x1="1171.6" y1="610.1" x2="1184.6" y2="610.1" stroke="#666" stroke-width="2.3" />
<line x1="1171.6" y1="641.0" x2="1184.6" y2="641.0" stroke="#666" stroke-width="2.3" />
<line x1="1171.6" y1="671.9" x2="1184.6" y2="671.9" stroke="#666" stroke-width="2.3" />
<line x1="1171.6" y1="702.7" x2="1184.6" y2="702.7" stroke="#666" stroke-width="2.3" />
<line x1="1171.6" y1="363.1" x2="1184.6" y2="363.1" stroke="#666" stroke-width="2.6" />
<line x1="1171.6" y1="733.6" x2="1184.6" y2="733.6" stroke="#666" stroke-width="2.3" />
<rect x="1230.8" y="363.1" width="13.7" height="370.5" fill="none" stroke="#777" stroke-width="1.6" />
<line x1="1230.8" y1="394.0" x2="1244.5" y2="394.0" stroke="#666" stroke-width="2.3" />
<line x1="1230.8" y1="424.9" x2="1244.5" y2="424.9" stroke="#666" stroke-width="2.3" />
<line x1="1230.8" y1="455.7" x2="1244.5" y2="455.7" stroke="#666" stroke-width="2.3" />
<line x1="1230.8" y1="486.6" x2="1244.5" y2="486.6" stroke="#666" stroke-width="2.3" />
<line x1="1230.8" y1="517.5" x2="1244.5" y2="517.5" stroke="#666" stroke-width="2.3" />
<line x1="1230.8" y1="548.4" x2="1244.5" y2="548.4" stroke="#666" stroke-width="2.3" />
<line x1="1230.8" y1="579.2" x2="1244.5" y2="579.2" stroke="#666" stroke-width="2.3" />
<line x1="1230.8" y1="610.1" x2="1244.5" y2="610.1" stroke="#666" stroke-width="2.3" />
<line x1="1230.8" y1="641.0" x2="1244.5" y2="641.0" stroke="#666" stroke-width="2.3" />
<line x1="1230.8" y1="671.9" x2="1244.5" y2="671.9" stroke="#666" stroke-width="2.3" />
<line x1="1230.8" y1="702.7" x2="1244.5" y2="702.7" stroke="#666" stroke-width="2.3" />
<line x1="1230.8" y1="363.1" x2="1244.5" y2="363.1" stroke="#666" stroke-width="2.6" />
<line x1="1230.8" y1="733.6" x2="1244.5" y2="733.6" stroke="#666" stroke-width="2.3" />
<rect x="1248.0" y="363.1" width="13.0" height="370.5" fill="none" stroke="#777" stroke-width="1.6" />
<line x1="1248.0" y1="394.0" x2="1261.0" y2="394.0" stroke="#666" stroke-width="2.3" />
<line x1="1248.0" y1="424.9" x2="1261.0" y2="424.9" stroke="#666" stroke-width="2.3" />
<line x1="1248.0" y1="455.7" x2="1261.0" y2="455.7" stroke="#666" stroke-width="2.3" />
<line x1="1248.0" y1="486.6" x2="1261.0" y2="486.6" stroke="#666" stroke-width="2.3" />
<line x1="1248.0" y1="517.5" x2="1261.0" y2="517.5" stroke="#666" stroke-width="2.3" />
<line x1="1248.0" y1="548.4" x2="1261.0" y2="548.4" stroke="#666" stroke-width="2.3" />
<line x1="1248.0" y1="579.2" x2="1261.0" y2="579.2" stroke="#666" stroke-width="2.3" />
<line x1="1248.0" y1="610.1" x2="1261.0" y2="610.1" stroke="#666" stroke-width="2.3" />
<line x1="1248.0" y1="641.0" x2="1261.0" y2="641.0" stroke="#666" stroke-width="2.3" />
<line x1="1248.0" y1="671.9" x2="1261.0" y2="671.9" stroke="#666" stroke-width="2.3" />
<line x1="1248.0" y1="702.7" x2="1261.0" y2="702.7" stroke="#666" stroke-width="2.3" />
<line x1="1248.0" y1="363.1" x2="1261.0" y2="363.1" stroke="#666" stroke-width="2.6" />
<line x1="1248.0" y1="733.6" x2="1261.0" y2="733.6" stroke="#666" stroke-width="2.3" />
<line x1="1246.2" y1="357.1" x2="1246.2" y2="733.6" stroke="#c4c4c4" stroke-width="0.8" />
<rect x="1307.6" y="363.1" width="13.0" height="370.5" fill="none" stroke="#777" stroke-width="1.6" />
<line x1="1307.6" y1="394.0" x2="1320.6" y2="394.0" stroke="#666" stroke-width="2.3" />
<line x1="1307.6" y1="424.9" x2="1320.6" y2="424.9" stroke="#666" stroke-width="2.3" />
<line x1="1307.6" y1="455.7" x2="1320.6" y2="455.7" stroke="#666" stroke-width="2.3" />
<line x1="1307.6" y1="486.6" x2="1320.6" y2="486.6" stroke="#666" stroke-width="2.3" />
<line x1="1307.6" y1="517.5" x2="1320.6" y2="517.5" stroke="#666" stroke-width="2.3" />
<line x1="1307.6" y1="548.4" x2="1320.6" y2="548.4" stroke="#666" stroke-width="2.3" />
<line x1="1307.6" y1="579.2" x2="1320.6" y2="579.2" stroke="#666" stroke-width="2.3" />
<line x1="1307.6" y1="610.1" x2="1320.6" y2="610.1" stroke="#666" stroke-width="2.3" />
<line x1="1307.6" y1="641.0" x2="1320.6" y2="641.0" stroke="#666" stroke-width="2.3" />
<line x1="1307.6" y1="671.9" x2="1320.6" y2="671.9" stroke="#666" stroke-width="2.3" />
<line x1="1307.6" y1="702.7" x2="1320.6" y2="702.7" stroke="#666" stroke-width="2.3" />
<line x1="1307.6" y1="363.1" x2="1320.6" y2="363.1" stroke="#666" stroke-width="2.6" />
<line x1="1307.6" y1="733.6" x2="1320.6" y2="733.6" stroke="#666" stroke-width="2.3" />
<rect x="1327.8" y="363.1" width="13.0" height="370.5" fill="none" stroke="#777" stroke-width="1.6" />
<line x1="1327.8" y1="394.0" x2="1340.8" y2="394.0" stroke="#666" stroke-width="2.3" />
<line x1="1327.8" y1="424.9" x2="1340.8" y2="424.9" stroke="#666" stroke-width="2.3" />
<line x1="1327.8" y1="455.7" x2="1340.8" y2="455.7" stroke="#666" stroke-width="2.3" />
<line x1="1327.8" y1="486.6" x2="1340.8" y2="486.6" stroke="#666" stroke-width="2.3" />
<line x1="1327.8" y1="517.5" x2="1340.8" y2="517.5" stroke="#666" stroke-width="2.3" />
<line x1="1327.8" y1="548.4" x2="1340.8" y2="548.4" stroke="#666" stroke-width="2.3" />
<line x1="1327.8" y1="579.2" x2="1340.8" y2="579.2" stroke="#666" stroke-width="2.3" />
<line x1="1327.8" y1="610.1" x2="1340.8" y2="610.1" stroke="#666" stroke-width="2.3" />
<line x1="1327.8" y1="641.0" x2="1340.8" y2="641.0" stroke="#666" stroke-width="2.3" />
<line x1="1327.8" y1="671.9" x2="1340.8" y2="671.9" stroke="#666" stroke-width="2.3" />
<line x1="1327.8" y1="702.7" x2="1340.8" y2="702.7" stroke="#666" stroke-width="2.3" />
<line x1="1327.8" y1="363.1" x2="1340.8" y2="363.1" stroke="#666" stroke-width="2.6" />
<line x1="1327.8" y1="733.6" x2="1340.8" y2="733.6" stroke="#666" stroke-width="2.3" />
<rect x="1400.6" y="363.1" width="13.4" height="370.5" fill="none" stroke="#777" stroke-width="1.6" />
<line x1="1400.6" y1="394.0" x2="1414.0" y2="394.0" stroke="#666" stroke-width="2.3" />
<line x1="1400.6" y1="424.9" x2="1414.0" y2="424.9" stroke="#666" stroke-width="2.3" />
<line x1="1400.6" y1="455.7" x2="1414.0" y2="455.7" stroke="#666" stroke-width="2.3" />
<line x1="1400.6" y1="486.6" x2="1414.0" y2="486.6" stroke="#666" stroke-width="2.3" />
<line x1="1400.6" y1="517.5" x2="1414.0" y2="517.5" stroke="#666" stroke-width="2.3" />
<line x1="1400.6" y1="548.4" x2="1414.0" y2="548.4" stroke="#666" stroke-width="2.3" />
<line x1="1400.6" y1="579.2" x2="1414.0" y2="579.2" stroke="#666" stroke-width="2.3" />
<line x1="1400.6" y1="610.1" x2="1414.0" y2="610.1" stroke="#666" stroke-width="2.3" />
<line x1="1400.6" y1="641.0" x2="1414.0" y2="641.0" stroke="#666" stroke-width="2.3" />
<line x1="1400.6" y1="671.9" x2="1414.0" y2="671.9" stroke="#666" stroke-width="2.3" />
<line x1="1400.6" y1="702.7" x2="1414.0" y2="702.7" stroke="#666" stroke-width="2.3" />
<line x1="1400.6" y1="363.1" x2="1414.0" y2="363.1" stroke="#666" stroke-width="2.6" />
<line x1="1400.6" y1="733.6" x2="1414.0" y2="733.6" stroke="#666" stroke-width="2.3" />
<rect x="1417.5" y="363.1" width="13.9" height="370.5" fill="none" stroke="#777" stroke-width="1.6" />
<line x1="1417.5" y1="394.0" x2="1431.4" y2="394.0" stroke="#666" stroke-width="2.3" />
<line x1="1417.5" y1="424.9" x2="1431.4" y2="424.9" stroke="#666" stroke-width="2.3" />
<line x1="1417.5" y1="455.7" x2="1431.4" y2="455.7" stroke="#666" stroke-width="2.3" />
<line x1="1417.5" y1="486.6" x2="1431.4" y2="486.6" stroke="#666" stroke-width="2.3" />
<line x1="1417.5" y1="517.5" x2="1431.4" y2="517.5" stroke="#666" stroke-width="2.3" />
<line x1="1417.5" y1="548.4" x2="1431.4" y2="548.4" stroke="#666" stroke-width="2.3" />
<line x1="1417.5" y1="579.2" x2="1431.4" y2="579.2" stroke="#666" stroke-width="2.3" />
<line x1="1417.5" y1="610.1" x2="1431.4" y2="610.1" stroke="#666" stroke-width="2.3" />
<line x1="1417.5" y1="641.0" x2="1431.4" y2="641.0" stroke="#666" stroke-width="2.3" />
<line x1="1417.5" y1="671.9" x2="1431.4" y2="671.9" stroke="#666" stroke-width="2.3" />
<line x1="1417.5" y1="702.7" x2="1431.4" y2="702.7" stroke="#666" stroke-width="2.3" />
<line x1="1417.5" y1="363.1" x2="1431.4" y2="363.1" stroke="#666" stroke-width="2.6" />
<line x1="1417.5" y1="733.6" x2="1431.4" y2="733.6" stroke="#666" stroke-width="2.3" />
<line x1="1415.8" y1="357.1" x2="1415.8" y2="733.6" stroke="#c4c4c4" stroke-width="0.8" />
<rect x="1490.8" y="363.1" width="13.7" height="308.9" fill="none" stroke="#777" stroke-width="1.6" />
<line x1="1490.8" y1="394.0" x2="1504.5" y2="394.0" stroke="#666" stroke-width="2.3" />
<line x1="1490.8" y1="424.9" x2="1504.5" y2="424.9" stroke="#666" stroke-width="2.3" />
<line x1="1490.8" y1="455.7" x2="1504.5" y2="455.7" stroke="#666" stroke-width="2.3" />
<line x1="1490.8" y1="486.6" x2="1504.5" y2="486.6" stroke="#666" stroke-width="2.3" />
<line x1="1490.8" y1="517.5" x2="1504.5" y2="517.5" stroke="#666" stroke-width="2.3" />
<line x1="1490.8" y1="548.4" x2="1504.5" y2="548.4" stroke="#666" stroke-width="2.3" />
<line x1="1490.8" y1="579.2" x2="1504.5" y2="579.2" stroke="#666" stroke-width="2.3" />
<line x1="1490.8" y1="610.1" x2="1504.5" y2="610.1" stroke="#666" stroke-width="2.3" />
<line x1="1490.8" y1="641.0" x2="1504.5" y2="641.0" stroke="#666" stroke-width="2.3" />
<line x1="1490.8" y1="363.1" x2="1504.5" y2="363.1" stroke="#666" stroke-width="2.6" />
<line x1="1490.8" y1="672.0" x2="1504.5" y2="672.0" stroke="#666" stroke-width="2.3" />
<rect x="1514.6" y="363.1" width="13.7" height="308.9" fill="none" stroke="#777" stroke-width="1.6" />
<line x1="1514.6" y1="394.0" x2="1528.3" y2="394.0" stroke="#666" stroke-width="2.3" />
<line x1="1514.6" y1="424.9" x2="1528.3" y2="424.9" stroke="#666" stroke-width="2.3" />
<line x1="1514.6" y1="455.7" x2="1528.3" y2="455.7" stroke="#666" stroke-width="2.3" />
<line x1="1514.6" y1="486.6" x2="1528.3" y2="486.6" stroke="#666" stroke-width="2.3" />
<line x1="1514.6" y1="517.5" x2="1528.3" y2="517.5" stroke="#666" stroke-width="2.3" />
<line x1="1514.6" y1="548.4" x2="1528.3" y2="548.4" stroke="#666" stroke-width="2.3" />
<line x1="1514.6" y1="579.2" x2="1528.3" y2="579.2" stroke="#666" stroke-width="2.3" />
<line x1="1514.6" y1="610.1" x2="1528.3" y2="610.1" stroke="#666" stroke-width="2.3" />
<line x1="1514.6" y1="641.0" x2="1528.3" y2="641.0" stroke="#666" stroke-width="2.3" />
<line x1="1514.6" y1="363.1" x2="1528.3" y2="363.1" stroke="#666" stroke-width="2.6" />
<line x1="1514.6" y1="672.0" x2="1528.3" y2="672.0" stroke="#666" stroke-width="2.3" />
<rect x="1574.8" y="363.1" width="13.0" height="323.6" fill="none" stroke="#777" stroke-width="1.6" />
<line x1="1574.8" y1="394.2" x2="1587.8" y2="394.2" stroke="#666" stroke-width="2.3" />
<line x1="1574.8" y1="425.1" x2="1587.8" y2="425.1" stroke="#666" stroke-width="2.3" />
<line x1="1574.8" y1="456.0" x2="1587.8" y2="456.0" stroke="#666" stroke-width="2.3" />
<line x1="1574.8" y1="487.2" x2="1587.8" y2="487.2" stroke="#666" stroke-width="2.3" />
<line x1="1574.8" y1="532.5" x2="1587.8" y2="532.5" stroke="#666" stroke-width="2.3" />
<line x1="1574.8" y1="563.3" x2="1587.8" y2="563.3" stroke="#666" stroke-width="2.3" />
<line x1="1574.8" y1="594.0" x2="1587.8" y2="594.0" stroke="#666" stroke-width="2.3" />
<line x1="1574.8" y1="624.8" x2="1587.8" y2="624.8" stroke="#666" stroke-width="2.3" />
<line x1="1574.8" y1="655.6" x2="1587.8" y2="655.6" stroke="#666" stroke-width="2.3" />
<line x1="1574.8" y1="363.1" x2="1587.8" y2="363.1" stroke="#666" stroke-width="2.6" />
<line x1="1574.8" y1="686.7" x2="1587.8" y2="686.7" stroke="#666" stroke-width="2.3" />
<line x1="1574.8" y1="487.2" x2="1587.8" y2="532.5" stroke="#888" stroke-width="1.1" />
<line x1="1587.8" y1="487.2" x2="1574.8" y2="532.5" stroke="#888" stroke-width="1.1" />
<rect x="1591.4" y="363.1" width="13.7" height="323.6" fill="none" stroke="#777" stroke-width="1.6" />
<line x1="1591.4" y1="394.2" x2="1605.1" y2="394.2" stroke="#666" stroke-width="2.3" />
<line x1="1591.4" y1="425.1" x2="1605.1" y2="425.1" stroke="#666" stroke-width="2.3" />
<line x1="1591.4" y1="456.0" x2="1605.1" y2="456.0" stroke="#666" stroke-width="2.3" />
<line x1="1591.4" y1="487.2" x2="1605.1" y2="487.2" stroke="#666" stroke-width="2.3" />
<line x1="1591.4" y1="532.5" x2="1605.1" y2="532.5" stroke="#666" stroke-width="2.3" />
<line x1="1591.4" y1="563.3" x2="1605.1" y2="563.3" stroke="#666" stroke-width="2.3" />
<line x1="1591.4" y1="594.0" x2="1605.1" y2="594.0" stroke="#666" stroke-width="2.3" />
<line x1="1591.4" y1="624.8" x2="1605.1" y2="624.8" stroke="#666" stroke-width="2.3" />
<line x1="1591.4" y1="655.6" x2="1605.1" y2="655.6" stroke="#666" stroke-width="2.3" />
<line x1="1591.4" y1="363.1" x2="1605.1" y2="363.1" stroke="#666" stroke-width="2.6" />
<line x1="1591.4" y1="686.7" x2="1605.1" y2="686.7" stroke="#666" stroke-width="2.3" />
<line x1="1591.4" y1="487.2" x2="1605.1" y2="532.5" stroke="#888" stroke-width="1.1" />
<line x1="1605.1" y1="487.2" x2="1591.4" y2="532.5" stroke="#888" stroke-width="1.1" />
<line x1="1589.6" y1="357.1" x2="1589.6" y2="686.7" stroke="#c4c4c4" stroke-width="0.8" />
<rect x="1651.3" y="363.1" width="13.4" height="308.9" fill="none" stroke="#777" stroke-width="1.6" />
<line x1="1651.3" y1="394.0" x2="1664.7" y2="394.0" stroke="#666" stroke-width="2.3" />
<line x1="1651.3" y1="424.9" x2="1664.7" y2="424.9" stroke="#666" stroke-width="2.3" />
<line x1="1651.3" y1="455.7" x2="1664.7" y2="455.7" stroke="#666" stroke-width="2.3" />
<line x1="1651.3" y1="486.6" x2="1664.7" y2="486.6" stroke="#666" stroke-width="2.3" />
<line x1="1651.3" y1="517.5" x2="1664.7" y2="517.5" stroke="#666" stroke-width="2.3" />
<line x1="1651.3" y1="548.4" x2="1664.7" y2="548.4" stroke="#666" stroke-width="2.3" />
<line x1="1651.3" y1="579.2" x2="1664.7" y2="579.2" stroke="#666" stroke-width="2.3" />
<line x1="1651.3" y1="610.1" x2="1664.7" y2="610.1" stroke="#666" stroke-width="2.3" />
<line x1="1651.3" y1="641.0" x2="1664.7" y2="641.0" stroke="#666" stroke-width="2.3" />
<line x1="1651.3" y1="363.1" x2="1664.7" y2="363.1" stroke="#666" stroke-width="2.6" />
<line x1="1651.3" y1="672.0" x2="1664.7" y2="672.0" stroke="#666" stroke-width="2.3" />
<rect x="1507.4" y="492.0" width="4.6" height="191.0" fill="#b0b0b0" stroke="#6a6a6a" stroke-width="1.3" />
<line x1="861.9" y1="310.0" x2="861.9" y2="353.5" stroke="#7c7c7c" stroke-width="1.3" />
<line x1="861.9" y1="366.4" x2="861.9" y2="413.5" stroke="#7c7c7c" stroke-width="1.3" />
<line x1="861.9" y1="443.3" x2="861.9" y2="489.9" stroke="#7c7c7c" stroke-width="1.3" />
<line x1="861.9" y1="519.8" x2="861.9" y2="573.9" stroke="#7c7c7c" stroke-width="1.3" />
<line x1="861.9" y1="604.4" x2="861.9" y2="658.1" stroke="#7c7c7c" stroke-width="1.3" />
<line x1="861.9" y1="688.4" x2="861.9" y2="742.5" stroke="#7c7c7c" stroke-width="1.3" />
<line x1="861.9" y1="772.1" x2="861.9" y2="827.7" stroke="#7c7c7c" stroke-width="1.3" />
<line x1="964.3" y1="418.5" x2="1018.0" y2="418.5" stroke="#7c7c7c" stroke-width="1.3" />
<line x1="1048.3" y1="418.5" x2="1094.5" y2="418.5" stroke="#7c7c7c" stroke-width="1.3" />
<line x1="1124.8" y1="418.5" x2="1171.6" y2="418.5" stroke="#7c7c7c" stroke-width="1.3" />
<line x1="1184.6" y1="418.5" x2="1230.8" y2="418.5" stroke="#7c7c7c" stroke-width="1.3" />
<line x1="1261.0" y1="418.5" x2="1307.6" y2="418.5" stroke="#7c7c7c" stroke-width="1.3" />
<line x1="1340.8" y1="418.5" x2="1400.6" y2="418.5" stroke="#7c7c7c" stroke-width="1.3" />
<line x1="1431.4" y1="418.5" x2="1490.8" y2="418.5" stroke="#7c7c7c" stroke-width="1.3" />
<line x1="1528.3" y1="418.5" x2="1574.8" y2="418.5" stroke="#7c7c7c" stroke-width="1.3" />
<line x1="1605.1" y1="418.5" x2="1651.3" y2="418.5" stroke="#7c7c7c" stroke-width="1.3" />
<line x1="1664.7" y1="418.5" x2="1702.0" y2="418.5" stroke="#7c7c7c" stroke-width="1.3" />
<line x1="964.3" y1="598.5" x2="1018.0" y2="598.5" stroke="#7c7c7c" stroke-width="1.3" />
<line x1="1048.3" y1="598.5" x2="1094.5" y2="598.5" stroke="#7c7c7c" stroke-width="1.3" />
<line x1="1124.8" y1="598.5" x2="1171.6" y2="598.5" stroke="#7c7c7c" stroke-width="1.3" />
<line x1="1184.6" y1="598.5" x2="1230.8" y2="598.5" stroke="#7c7c7c" stroke-width="1.3" />
<line x1="1261.0" y1="598.5" x2="1307.6" y2="598.5" stroke="#7c7c7c" stroke-width="1.3" />
<line x1="1340.8" y1="598.5" x2="1400.6" y2="598.5" stroke="#7c7c7c" stroke-width="1.3" />
<line x1="1431.4" y1="598.5" x2="1490.8" y2="598.5" stroke="#7c7c7c" stroke-width="1.3" />
<line x1="1528.3" y1="598.5" x2="1574.8" y2="598.5" stroke="#7c7c7c" stroke-width="1.3" />
<line x1="1605.1" y1="598.5" x2="1651.3" y2="598.5" stroke="#7c7c7c" stroke-width="1.3" />
<line x1="1664.7" y1="598.5" x2="1702.0" y2="598.5" stroke="#7c7c7c" stroke-width="1.3" />
<line x1="1006.6" y1="733.6" x2="1006.6" y2="828.0" stroke="#7c7c7c" stroke-width="1.3" />
<line x1="1140.7" y1="733.6" x2="1140.7" y2="774.0" stroke="#7c7c7c" stroke-width="1.3" />
<line x1="1251.8" y1="733.6" x2="1251.8" y2="828.0" stroke="#7c7c7c" stroke-width="1.3" />
<line x1="1540.5" y1="672.0" x2="1540.5" y2="735.4" stroke="#7c7c7c" stroke-width="1.3" />
<line x1="1351.0" y1="274.0" x2="1351.0" y2="363.0" stroke="#7c7c7c" stroke-width="1.3" />
<line x1="1340.8" y1="363.0" x2="1351.0" y2="363.0" stroke="#7c7c7c" stroke-width="1.3" />
<line x1="1525.0" y1="672.0" x2="1540.5" y2="672.0" stroke="#7c7c7c" stroke-width="1.3" />
<line x1="1006.6" y1="733.6" x2="1018.0" y2="733.6" stroke="#7c7c7c" stroke-width="1.4" />
<line x1="1124.8" y1="733.6" x2="1140.7" y2="733.6" stroke="#7c7c7c" stroke-width="1.4" />
<line x1="757.0" y1="558.0" x2="779.0" y2="558.0" stroke="#7c7c7c" stroke-width="1.4" />
<line x1="779.0" y1="558.0" x2="779.0" y2="573.0" stroke="#7c7c7c" stroke-width="1.4" />
<line x1="764.0" y1="651.0" x2="779.0" y2="651.0" stroke="#7c7c7c" stroke-width="1.4" />
<line x1="975.5" y1="415.0" x2="975.5" y2="445.0" stroke="#7c7c7c" stroke-width="1.3" />
<line x1="975.5" y1="487.0" x2="975.5" y2="507.0" stroke="#7c7c7c" stroke-width="1.3" />
<line x1="975.5" y1="573.0" x2="975.5" y2="596.0" stroke="#7c7c7c" stroke-width="1.3" />
<line x1="975.5" y1="655.0" x2="975.5" y2="680.0" stroke="#7c7c7c" stroke-width="1.3" />
<line x1="975.5" y1="740.0" x2="975.5" y2="763.0" stroke="#7c7c7c" stroke-width="1.3" />
<path d="M1015.5,421.0 L1020.5,416.0" stroke="#666" stroke-width="1.6" fill="none" />
<path d="M1045.8,421.0 L1050.8,416.0" stroke="#666" stroke-width="1.6" fill="none" />
<path d="M1092.0,421.0 L1097.0,416.0" stroke="#666" stroke-width="1.6" fill="none" />
<path d="M1122.3,421.0 L1127.3,416.0" stroke="#666" stroke-width="1.6" fill="none" />
<path d="M1169.1,421.0 L1174.1,416.0" stroke="#666" stroke-width="1.6" fill="none" />
<path d="M1182.1,421.0 L1187.1,416.0" stroke="#666" stroke-width="1.6" fill="none" />
<path d="M1228.3,421.0 L1233.3,416.0" stroke="#666" stroke-width="1.6" fill="none" />
<path d="M1258.5,421.0 L1263.5,416.0" stroke="#666" stroke-width="1.6" fill="none" />
<path d="M1305.1,421.0 L1310.1,416.0" stroke="#666" stroke-width="1.6" fill="none" />
<path d="M1338.3,421.0 L1343.3,416.0" stroke="#666" stroke-width="1.6" fill="none" />
<path d="M1398.1,421.0 L1403.1,416.0" stroke="#666" stroke-width="1.6" fill="none" />
<path d="M1428.9,421.0 L1433.9,416.0" stroke="#666" stroke-width="1.6" fill="none" />
<path d="M1488.3,421.0 L1493.3,416.0" stroke="#666" stroke-width="1.6" fill="none" />
<path d="M1525.8,421.0 L1530.8,416.0" stroke="#666" stroke-width="1.6" fill="none" />
<path d="M1572.3,421.0 L1577.3,416.0" stroke="#666" stroke-width="1.6" fill="none" />
<path d="M1602.6,421.0 L1607.6,416.0" stroke="#666" stroke-width="1.6" fill="none" />
<path d="M1648.8,421.0 L1653.8,416.0" stroke="#666" stroke-width="1.6" fill="none" />
<path d="M1662.2,421.0 L1667.2,416.0" stroke="#666" stroke-width="1.6" fill="none" />
<path d="M1699.5,421.0 L1704.5,416.0" stroke="#666" stroke-width="1.6" fill="none" />
<path d="M1015.5,601.0 L1020.5,596.0" stroke="#666" stroke-width="1.6" fill="none" />
<path d="M1045.8,601.0 L1050.8,596.0" stroke="#666" stroke-width="1.6" fill="none" />
<path d="M1092.0,601.0 L1097.0,596.0" stroke="#666" stroke-width="1.6" fill="none" />
<path d="M1122.3,601.0 L1127.3,596.0" stroke="#666" stroke-width="1.6" fill="none" />
<path d="M1169.1,601.0 L1174.1,596.0" stroke="#666" stroke-width="1.6" fill="none" />
<path d="M1182.1,601.0 L1187.1,596.0" stroke="#666" stroke-width="1.6" fill="none" />
<path d="M1228.3,601.0 L1233.3,596.0" stroke="#666" stroke-width="1.6" fill="none" />
<path d="M1258.5,601.0 L1263.5,596.0" stroke="#666" stroke-width="1.6" fill="none" />
<path d="M1305.1,601.0 L1310.1,596.0" stroke="#666" stroke-width="1.6" fill="none" />
<path d="M1338.3,601.0 L1343.3,596.0" stroke="#666" stroke-width="1.6" fill="none" />
<path d="M1398.1,601.0 L1403.1,596.0" stroke="#666" stroke-width="1.6" fill="none" />
<path d="M1428.9,601.0 L1433.9,596.0" stroke="#666" stroke-width="1.6" fill="none" />
<path d="M1488.3,601.0 L1493.3,596.0" stroke="#666" stroke-width="1.6" fill="none" />
<path d="M1525.8,601.0 L1530.8,596.0" stroke="#666" stroke-width="1.6" fill="none" />
<path d="M1572.3,601.0 L1577.3,596.0" stroke="#666" stroke-width="1.6" fill="none" />
<path d="M1602.6,601.0 L1607.6,596.0" stroke="#666" stroke-width="1.6" fill="none" />
<path d="M1648.8,601.0 L1653.8,596.0" stroke="#666" stroke-width="1.6" fill="none" />
<path d="M1662.2,601.0 L1667.2,596.0" stroke="#666" stroke-width="1.6" fill="none" />
<path d="M1699.5,601.0 L1704.5,596.0" stroke="#666" stroke-width="1.6" fill="none" />
<path d="M859.4,356.0 L864.4,351.0" stroke="#666" stroke-width="1.6" fill="none" />
<path d="M859.4,368.9 L864.4,363.9" stroke="#666" stroke-width="1.6" fill="none" />
<path d="M859.4,416.0 L864.4,411.0" stroke="#666" stroke-width="1.6" fill="none" />
<path d="M859.4,445.8 L864.4,440.8" stroke="#666" stroke-width="1.6" fill="none" />
<path d="M859.4,492.4 L864.4,487.4" stroke="#666" stroke-width="1.6" fill="none" />
<path d="M859.4,522.3 L864.4,517.3" stroke="#666" stroke-width="1.6" fill="none" />
<path d="M859.4,576.4 L864.4,571.4" stroke="#666" stroke-width="1.6" fill="none" />
<path d="M859.4,606.9 L864.4,601.9" stroke="#666" stroke-width="1.6" fill="none" />
<path d="M859.4,660.6 L864.4,655.6" stroke="#666" stroke-width="1.6" fill="none" />
<path d="M859.4,690.9 L864.4,685.9" stroke="#666" stroke-width="1.6" fill="none" />
<path d="M859.4,745.0 L864.4,740.0" stroke="#666" stroke-width="1.6" fill="none" />
<path d="M859.4,774.6 L864.4,769.6" stroke="#666" stroke-width="1.6" fill="none" />
<path d="M859.4,830.2 L864.4,825.2" stroke="#666" stroke-width="1.6" fill="none" />
<line x1="1030.0" y1="355.5" x2="1050.0" y2="355.5" stroke="#999" stroke-width="1" />
<path d="M1029.5,358.0 L1034.5,353.0" stroke="#666" stroke-width="1.6" fill="none" />
<path d="M1032.5,358.0 L1037.5,353.0" stroke="#666" stroke-width="1.6" fill="none" />
<line x1="1106.0" y1="355.5" x2="1126.0" y2="355.5" stroke="#999" stroke-width="1" />
<path d="M1105.5,358.0 L1110.5,353.0" stroke="#666" stroke-width="1.6" fill="none" />
<path d="M1108.5,358.0 L1113.5,353.0" stroke="#666" stroke-width="1.6" fill="none" />
<line x1="1318.0" y1="355.5" x2="1330.0" y2="355.5" stroke="#999" stroke-width="1" />
<path d="M1317.5,358.0 L1322.5,353.0" stroke="#666" stroke-width="1.6" fill="none" />
<path d="M1320.5,358.0 L1325.5,353.0" stroke="#666" stroke-width="1.6" fill="none" />
<line x1="1412.0" y1="355.5" x2="1432.0" y2="355.5" stroke="#999" stroke-width="1" />
<path d="M1411.5,358.0 L1416.5,353.0" stroke="#666" stroke-width="1.6" fill="none" />
<path d="M1414.5,358.0 L1419.5,353.0" stroke="#666" stroke-width="1.6" fill="none" />
<line x1="1502.0" y1="355.5" x2="1516.0" y2="355.5" stroke="#999" stroke-width="1" />
<path d="M1501.5,358.0 L1506.5,353.0" stroke="#666" stroke-width="1.6" fill="none" />
<path d="M1504.5,358.0 L1509.5,353.0" stroke="#666" stroke-width="1.6" fill="none" />
<line x1="1586.0" y1="355.5" x2="1606.0" y2="355.5" stroke="#999" stroke-width="1" />
<path d="M1585.5,358.0 L1590.5,353.0" stroke="#666" stroke-width="1.6" fill="none" />
<path d="M1588.5,358.0 L1593.5,353.0" stroke="#666" stroke-width="1.6" fill="none" />
<text x="991.15" y="412" font-family="Liberation Sans" font-style="italic" font-size="8" fill="#b5b5b5" text-anchor="middle">14'-6"</text>
<text x="1071.4" y="412" font-family="Liberation Sans" font-style="italic" font-size="8" fill="#b5b5b5" text-anchor="middle">12'-6"</text>
<text x="1148.1999999999998" y="412" font-family="Liberation Sans" font-style="italic" font-size="8" fill="#b5b5b5" text-anchor="middle">12'-6"</text>
<text x="1207.6999999999998" y="412" font-family="Liberation Sans" font-style="italic" font-size="8" fill="#b5b5b5" text-anchor="middle">12'-6"</text>
<text x="1284.3" y="412" font-family="Liberation Sans" font-style="italic" font-size="8" fill="#b5b5b5" text-anchor="middle">12'-6"</text>
<text x="1370.6999999999998" y="412" font-family="Liberation Sans" font-style="italic" font-size="8" fill="#b5b5b5" text-anchor="middle">16'</text>
<text x="1461.1" y="412" font-family="Liberation Sans" font-style="italic" font-size="8" fill="#b5b5b5" text-anchor="middle">16'</text>
<text x="1551.55" y="412" font-family="Liberation Sans" font-style="italic" font-size="8" fill="#b5b5b5" text-anchor="middle">12'-6"</text>
<text x="1628.1999999999998" y="412" font-family="Liberation Sans" font-style="italic" font-size="8" fill="#b5b5b5" text-anchor="middle">12'-6"</text>
<text x="1683.35" y="412" font-family="Liberation Sans" font-style="italic" font-size="8" fill="#b5b5b5" text-anchor="middle">10'-1"</text>
<text x="991.15" y="592" font-family="Liberation Sans" font-style="italic" font-size="8" fill="#b5b5b5" text-anchor="middle">14'-6"</text>
<text x="1071.4" y="592" font-family="Liberation Sans" font-style="italic" font-size="8" fill="#b5b5b5" text-anchor="middle">12'-6"</text>
<text x="1148.1999999999998" y="592" font-family="Liberation Sans" font-style="italic" font-size="8" fill="#b5b5b5" text-anchor="middle">12'-6"</text>
<text x="1207.6999999999998" y="592" font-family="Liberation Sans" font-style="italic" font-size="8" fill="#b5b5b5" text-anchor="middle">12'-6"</text>
<text x="1284.3" y="592" font-family="Liberation Sans" font-style="italic" font-size="8" fill="#b5b5b5" text-anchor="middle">12'-6"</text>
<text x="1370.6999999999998" y="592" font-family="Liberation Sans" font-style="italic" font-size="8" fill="#b5b5b5" text-anchor="middle">16'</text>
<text x="1461.1" y="592" font-family="Liberation Sans" font-style="italic" font-size="8" fill="#b5b5b5" text-anchor="middle">16'</text>
<text x="1551.55" y="592" font-family="Liberation Sans" font-style="italic" font-size="8" fill="#b5b5b5" text-anchor="middle">12'-6"</text>
<text x="1628.1999999999998" y="592" font-family="Liberation Sans" font-style="italic" font-size="8" fill="#b5b5b5" text-anchor="middle">12'-6"</text>
<text x="1683.35" y="592" font-family="Liberation Sans" font-style="italic" font-size="8" fill="#b5b5b5" text-anchor="middle">10'-1"</text>
<text transform="translate(857,337) rotate(-90)" font-family="Liberation Sans" font-style="italic" font-size="8" fill="#b5b5b5" text-anchor="middle">11'-8"</text>
<text transform="translate(857,397) rotate(-90)" font-family="Liberation Sans" font-style="italic" font-size="8" fill="#b5b5b5" text-anchor="middle">12'-6"</text>
<text transform="translate(857,467) rotate(-90)" font-family="Liberation Sans" font-style="italic" font-size="8" fill="#b5b5b5" text-anchor="middle">12'-6"</text>
<text transform="translate(857,548) rotate(-90)" font-family="Liberation Sans" font-style="italic" font-size="8" fill="#b5b5b5" text-anchor="middle">14'-6"</text>
<text transform="translate(857,629) rotate(-90)" font-family="Liberation Sans" font-style="italic" font-size="8" fill="#b5b5b5" text-anchor="middle">14'-6"</text>
<text transform="translate(857,709) rotate(-90)" font-family="Liberation Sans" font-style="italic" font-size="8" fill="#b5b5b5" text-anchor="middle">14'-6"</text>
<text transform="translate(857,800) rotate(-90)" font-family="Liberation Sans" font-style="italic" font-size="8" fill="#b5b5b5" text-anchor="middle">14'-10"</text>
<text transform="translate(1136,756) rotate(-90)" font-family="Liberation Sans" font-style="italic" font-size="8" fill="#b5b5b5" text-anchor="middle">10'-8"</text>
<text transform="translate(1002,780) rotate(-90)" font-family="Liberation Sans" font-style="italic" font-size="8" fill="#b5b5b5" text-anchor="middle">25'-1"</text>
<text transform="translate(1247,780) rotate(-90)" font-family="Liberation Sans" font-style="italic" font-size="8" fill="#b5b5b5" text-anchor="middle">25'-1"</text>
<text transform="translate(1536,700) rotate(-90)" font-family="Liberation Sans" font-style="italic" font-size="8" fill="#b5b5b5" text-anchor="middle">17'-1"</text>
<text transform="translate(1347,318) rotate(-90)" font-family="Liberation Sans" font-style="italic" font-size="8" fill="#b5b5b5" text-anchor="middle">23'-11"</text>
<text transform="translate(1739,546) rotate(-90)" font-family="Liberation Sans" font-style="italic" font-size="8" fill="#b5b5b5" text-anchor="middle">146'</text>
<circle cx="872.4" cy="337" r="9.4" fill="#6aa0d5" stroke="#1f4d7c" stroke-width="1.8"/>
<circle cx="872.4" cy="397.2" r="9.4" fill="#6aa0d5" stroke="#1f4d7c" stroke-width="1.8"/>
<circle cx="872.4" cy="467.4" r="9.4" fill="#6aa0d5" stroke="#1f4d7c" stroke-width="1.8"/>
<circle cx="872.4" cy="547.9" r="9.4" fill="#6aa0d5" stroke="#1f4d7c" stroke-width="1.8"/>
<circle cx="872.4" cy="628.7" r="9.4" fill="#6aa0d5" stroke="#1f4d7c" stroke-width="1.8"/>
<circle cx="872.4" cy="709" r="9.4" fill="#6aa0d5" stroke="#1f4d7c" stroke-width="1.8"/>
<circle cx="872.4" cy="799.6" r="9.4" fill="#6aa0d5" stroke="#1f4d7c" stroke-width="1.8"/>
<circle cx="993.1" cy="467.4" r="9.4" fill="#6aa0d5" stroke="#1f4d7c" stroke-width="1.8"/>
<circle cx="993.1" cy="628.7" r="9.4" fill="#6aa0d5" stroke="#1f4d7c" stroke-width="1.8"/>
<circle cx="1073.6" cy="467.6" r="9.4" fill="#6aa0d5" stroke="#1f4d7c" stroke-width="1.8"/>
<circle cx="1144" cy="467.6" r="9.4" fill="#6aa0d5" stroke="#1f4d7c" stroke-width="1.8"/>
<circle cx="1204.1" cy="467.6" r="9.4" fill="#6aa0d5" stroke="#1f4d7c" stroke-width="1.8"/>
<circle cx="1284.8" cy="467.6" r="9.4" fill="#6aa0d5" stroke="#1f4d7c" stroke-width="1.8"/>
<circle cx="1365" cy="467.6" r="9.4" fill="#6aa0d5" stroke="#1f4d7c" stroke-width="1.8"/>
<circle cx="1455.4" cy="467.6" r="9.4" fill="#6aa0d5" stroke="#1f4d7c" stroke-width="1.8"/>
<circle cx="1546" cy="467.6" r="9.4" fill="#6aa0d5" stroke="#1f4d7c" stroke-width="1.8"/>
<circle cx="1626.3" cy="467.6" r="9.4" fill="#6aa0d5" stroke="#1f4d7c" stroke-width="1.8"/>
<circle cx="1073.6" cy="628.6" r="9.4" fill="#6aa0d5" stroke="#1f4d7c" stroke-width="1.8"/>
<circle cx="1144" cy="628.6" r="9.4" fill="#6aa0d5" stroke="#1f4d7c" stroke-width="1.8"/>
<circle cx="1204.1" cy="628.6" r="9.4" fill="#6aa0d5" stroke="#1f4d7c" stroke-width="1.8"/>
<circle cx="1284.8" cy="628.6" r="9.4" fill="#6aa0d5" stroke="#1f4d7c" stroke-width="1.8"/>
<circle cx="1365" cy="628.6" r="9.4" fill="#6aa0d5" stroke="#1f4d7c" stroke-width="1.8"/>
<circle cx="1455.4" cy="628.6" r="9.4" fill="#6aa0d5" stroke="#1f4d7c" stroke-width="1.8"/>
<circle cx="1546" cy="628.6" r="9.4" fill="#6aa0d5" stroke="#1f4d7c" stroke-width="1.8"/>
<circle cx="1626.3" cy="628.6" r="9.4" fill="#6aa0d5" stroke="#1f4d7c" stroke-width="1.8"/>
<circle cx="1063.6" cy="206.5" r="9.8" fill="#f4f4f4" stroke="#858585" stroke-width="1.6"/>
<circle cx="1073.6" cy="337" r="9.8" fill="#f4f4f4" stroke="#858585" stroke-width="1.6"/>
<circle cx="1365" cy="337" r="9.8" fill="#f4f4f4" stroke="#858585" stroke-width="1.6"/>
<circle cx="1626.3" cy="337" r="9.8" fill="#f4f4f4" stroke="#858585" stroke-width="1.6"/>
<circle cx="1073.7" cy="759" r="9.8" fill="#f4f4f4" stroke="#858585" stroke-width="1.6"/>
<circle cx="1375.2" cy="748.8" r="9.8" fill="#f4f4f4" stroke="#858585" stroke-width="1.6"/>
<circle cx="1626.3" cy="718.8" r="9.8" fill="#f4f4f4" stroke="#858585" stroke-width="1.6"/>
</svg>

<svg class="abs" style="left:140px;top:20px" width="600" height="30" viewBox="140 20 600 30">
<path d="M152.3,28.2 L162.6,33.8 L152.3,39.6" fill="none" stroke="#333" stroke-width="2.3"/>
<path d="M707.6,28.2 L717.9,33.8 L707.6,39.6" fill="none" stroke="#333" stroke-width="2.3"/>
</svg>
<!-- left panel -->
<div class="abs" style="left:25px;top:202px;width:639px;height:922px;background:#f7f7f7;border:2px solid #dddddd;border-top:none;border-radius:0 0 6px 6px;"></div>
<div class="abs" style="left:233px;top:201.5px;width:431px;height:2px;background:#dddddd;"></div>
<div class="abs" style="left:25px;top:86px;width:210px;height:117.5px;background:#f7f7f7;border:2px solid #dddddd;border-bottom:none;border-radius:6px 6px 0 0;"></div>

<!-- tab icons -->
<svg class="abs" style="left:0;top:0" width="700" height="200" viewBox="0 0 700 200">
<g stroke="#777" stroke-width="3.2" fill="none" stroke-linecap="butt">
<line x1="112" y1="113.8" x2="137" y2="113.8"/><circle cx="141" cy="113.8" r="4.2"/>
<line x1="128" y1="124.1" x2="145.5" y2="124.1"/><line x1="112" y1="124.1" x2="119.5" y2="124.1"/><circle cx="123.6" cy="124.1" r="4.2"/>
<line x1="112" y1="134" x2="137" y2="134"/><circle cx="141" cy="134" r="4.2"/>
</g>
<rect x="329.3" y="109" width="29.5" height="29.5" rx="2.5" fill="none" stroke="#777" stroke-width="3.4"/>
<rect x="337.2" y="114" width="13.6" height="19.7" fill="#777"/>
<rect x="340.8" y="123.7" width="6.8" height="7.3" fill="#fff"/>
<path d="M547,108.8 L571,108.8 L571,139 L559,132 L547,139 Z" fill="none" stroke="#777" stroke-width="3.2" stroke-linejoin="miter"/>
<g stroke="#777" stroke-width="2.2"><line x1="552" y1="118.2" x2="566" y2="118.2"/><line x1="552" y1="126.2" x2="566" y2="126.2"/></g>
<circle cx="555.5" cy="118.2" r="2.2" fill="#777"/><circle cx="561" cy="126.2" r="2.2" fill="#777"/>
</svg>

<!-- unsaved -->
<div class="abs" style="left:70px;top:232px;width:548px;height:56px;background:#dcebf5;border-radius:6px;"></div>
<svg class="abs" style="left:86px;top:246px" width="27" height="27" viewBox="0 0 27 27">
<circle cx="13.3" cy="13.3" r="12.8" fill="#4a7fab"/>
<circle cx="13.5" cy="7.2" r="2.1" fill="#dcebf5"/>
<path d="M10.5,11 L15.3,11 L15.3,18.2 L17,18.2 L17,20.3 L10.3,20.3 L10.3,18.2 L12,18.2 L12,13.1 L10.5,13.1 Z" fill="#dcebf5"/>
</svg>

<!-- dividers -->
<div class="abs" style="left:70px;top:360px;width:548px;height:2px;background:#dadada;"></div>
<div class="abs" style="left:70px;top:644px;width:548px;height:2px;background:#dadada;"></div>
<div class="abs" style="left:70px;top:1090.5px;width:548px;height:2px;background:#dadada;"></div>

<!-- question marks -->
<svg class="abs" style="left:250px;top:322px" width="24" height="28" viewBox="0 0 24 28">
<path d="M5.5,9.5 C5.5,4.8 9,2.8 12.3,2.8 C16.2,2.8 19.3,5.2 19.3,8.8 C19.3,13.8 13.6,13.6 13.4,18.8" fill="none" stroke="#6aa8f0" stroke-width="4.4" stroke-linecap="butt"/>
<circle cx="13.3" cy="24" r="2.9" fill="#6aa8f0"/>
</svg>
<svg class="abs" style="left:194px;top:1038px" width="24" height="28" viewBox="0 0 24 28">
<path d="M5.5,9.5 C5.5,4.8 9,2.8 12.3,2.8 C16.2,2.8 19.3,5.2 19.3,8.8 C19.3,13.8 13.6,13.6 13.4,18.8" fill="none" stroke="#6aa8f0" stroke-width="4.4" stroke-linecap="butt"/>
<circle cx="13.3" cy="24" r="2.9" fill="#6aa8f0"/>
</svg>

<!-- sliders -->
<div class="abs" style="left:70px;top:459px;width:548px;height:10px;background:#6caaf0;border-radius:2px;"></div>
<div class="abs" style="left:534.6px;top:449.6px;width:30.4px;height:30.4px;background:#fff;border:2px solid #999;border-radius:50%;"></div>
<div class="abs" style="left:70px;top:906px;width:548px;height:10px;background:#6caaf0;border-radius:2px;"></div>
<div class="abs" style="left:147.5px;top:896.4px;width:30.4px;height:30.4px;background:#fff;border:2px solid #999;border-radius:50%;"></div>

<!-- toggles -->
<div class="abs" style="left:538px;top:572px;width:84px;height:45px;background:#6caaf0;border-radius:23px;"></div>
<div class="abs" style="left:580px;top:575.4px;width:38px;height:38px;background:#fff;border-radius:50%;"></div>
<div class="abs" style="left:538px;top:1019px;width:84px;height:45px;background:#6caaf0;border-radius:23px;"></div>
<div class="abs" style="left:580px;top:1022.4px;width:38px;height:38px;background:#fff;border-radius:50%;"></div>

<!-- button group -->
<div class="abs" style="left:70px;top:732px;width:548px;height:72px;background:#fff;border:2px solid #dcdcdc;border-radius:5px;"></div>
<div class="abs" style="left:72px;top:734px;width:121.5px;height:68px;background:#6caaf0;"></div>
<div class="abs" style="left:193.5px;top:734px;width:2px;height:68px;background:#dcdcdc;"></div>
<div class="abs" style="left:315px;top:734px;width:2px;height:68px;background:#dcdcdc;"></div>
<div class="abs" style="left:438px;top:734px;width:2px;height:68px;background:#dcdcdc;"></div>
<svg class="abs" style="left:577px;top:759px" width="22" height="18" viewBox="0 0 22 18"><path d="M0.8,0.8 L20.6,0.8 L10.7,16.8 Z" fill="#9a9a9a"/></svg>

<!-- bottom buttons -->
<div class="abs" style="left:28.5px;top:1128.5px;width:198px;height:70.5px;background:#fff;border:2px solid #6caaf0;border-radius:5px;"></div>
<div class="abs" style="left:239px;top:1128.5px;width:397px;height:70.5px;background:#8bbe56;border-radius:5px;"></div>

<!-- top right buttons -->
<div class="abs" style="left:1552px;top:11px;width:174px;height:62.5px;background:#e8e6e5;border:1.5px solid #d8d6d5;border-radius:5px;"></div>
<div class="abs" style="left:1734.5px;top:11px;width:127px;height:62.5px;background:#fff;border:2px solid #dcdcdc;border-radius:5px;"></div>
<svg class="abs" style="left:1560px;top:20px" width="50" height="44" viewBox="1560 20 50 44">
<g stroke="#707070" stroke-width="3.3" fill="none">
<line x1="1567" y1="31.6" x2="1593" y2="31.6"/><circle cx="1597" cy="31.6" r="4"/>
<line x1="1583" y1="42" x2="1601" y2="42"/><line x1="1567" y1="42" x2="1575" y2="42"/><circle cx="1579" cy="42" r="4"/>
<line x1="1567" y1="51.8" x2="1593" y2="51.8"/><circle cx="1597" cy="51.8" r="4"/>
</g></svg>
<svg class="abs" style="left:1745px;top:25px" width="42" height="36" viewBox="1745 25 42 36">
<g stroke="#6a6a6a" stroke-width="3.3" fill="none" stroke-linecap="butt">
<path d="M1754,29.5 A16,16 0 0 0 1754,51"/><path d="M1777.5,29.5 A16,16 0 0 1 1777.5,51"/>
<path d="M1759.5,35 A8,8 0 0 0 1759.5,45.5"/><path d="M1772,35 A8,8 0 0 1 1772,45.5"/>
</g>
<circle cx="1765.6" cy="40" r="3.3" fill="#6a6a6a"/>
<rect x="1764.2" y="40" width="2.9" height="16.7" fill="#6a6a6a"/>
</svg>

<!-- zoom controls -->
<div class="abs" style="left:1796.5px;top:96.5px;width:54.5px;height:54.5px;background:#fff;border:2px solid #6caaf0;border-radius:6px;"></div>
<div class="abs" style="left:1796.5px;top:160.5px;width:54.5px;height:54.5px;background:#fff;border:2px solid #c0dbf8;border-radius:6px;"></div>
<div class="abs" style="left:1796.5px;top:224.5px;width:54.5px;height:54.5px;background:#fff;border:2px solid #c0dbf8;border-radius:6px;"></div>
<svg class="abs" style="left:1796px;top:96px" width="56" height="184" viewBox="1796 96 56 184">
<g stroke-linecap="round">
<line x1="1811.5" y1="123.8" x2="1836.3" y2="123.8" stroke="#6caaf0" stroke-width="5.4"/>
<line x1="1823.9" y1="111.5" x2="1823.9" y2="136.2" stroke="#6caaf0" stroke-width="5.4"/>
<line x1="1811.5" y1="188" x2="1836.3" y2="188" stroke="#b8d6f8" stroke-width="5.4"/>
</g>
<path d="M1814.2,242.3 A13.4,13.4 0 1 1 1814.2,261.3" fill="none" stroke="#b8d6f8" stroke-width="5.6"/>
<path d="M1807.2,237 L1807.4,249.6 L1820.2,249.2 Z" fill="#b8d6f8"/>
</svg>

<!-- legend -->
<div class="abs" style="left:853.5px;top:865.5px;width:889px;height:62px;background:#fff;border:2px solid #dddddd;border-radius:3px;"></div>
<svg class="abs" style="left:900px;top:880px" width="650" height="40" viewBox="900 880 650 40">
<circle cx="938.3" cy="898.2" r="12.1" fill="#eda675" stroke="#d4865a" stroke-width="3.6"/>
<circle cx="1159.4" cy="898.2" r="12.1" fill="#f8e77e" stroke="#c6b466" stroke-width="3.6"/>
<circle cx="1373.7" cy="898.2" r="12.1" fill="#6aa0d8" stroke="#41709f" stroke-width="3.6"/>
<circle cx="1518.6" cy="898.2" r="12.1" fill="#80c080" stroke="#4f9352" stroke-width="3.6"/>
</svg>

<div class="t" id="bc1" style="left:24.02px;top:18.16px;font-size:30.52px;font-weight:400;color:#555;transform:scaleX(0.9816);transform-origin:0 0;">Settings</div>
<div class="t" id="bc2" style="left:181.01px;top:18.16px;font-size:30.52px;font-weight:400;color:#555;transform:scaleX(0.9853);transform-origin:0 0;">Cold Storage - Production Warehouse</div>
<div class="t" id="bc3" style="left:736.12px;top:18.16px;font-size:30.52px;font-weight:700;color:#555;transform:scaleX(0.9386);transform-origin:0 0;">Racking</div>
<div class="t" id="tab1" style="left:83.59px;top:153.69px;font-size:29.07px;font-weight:400;color:#333;transform:scaleX(1.0105);transform-origin:0 0;">Setting</div>
<div class="t" id="tab2" style="left:287.99px;top:153.12px;font-size:28.92px;font-weight:400;color:#8e8e8e;transform:scaleX(1.0114);transform-origin:0 0;">Override</div>
<div class="t" id="tab3" style="left:518.73px;top:153.12px;font-size:28.92px;font-weight:400;color:#8e8e8e;transform:scaleX(0.9676);transform-origin:0 0;">Saved</div>
<div class="t" id="unsaved" style="left:127.92px;top:245.15px;font-size:28.05px;font-weight:400;color:#4a7fab;transform:scaleX(0.8919);transform-origin:0 0;">Unsaved Changes</div>
<div class="t" id="task" style="left:70.40px;top:321.62px;font-size:27.62px;font-weight:400;color:#333;transform:scaleX(0.9369);transform-origin:0 0;">TASK TUNING</div>
<div class="t" id="active" style="left:70.10px;top:405.75px;font-size:29.94px;font-weight:700;color:#333;transform:scaleX(0.8610);transform-origin:0 0;">Active Level</div>
<div class="t" id="p90" style="left:567.85px;top:407.38px;font-size:27.91px;font-weight:400;color:#222;transform:scaleX(0.8968);transform-origin:0 0;">90%</div>
<div class="t" id="occ" style="left:69.97px;top:590.87px;font-size:27.33px;font-weight:400;color:#333;transform:scaleX(0.9323);transform-origin:0 0;">OCCUPANCY SENSING</div>
<div class="t" id="after" style="left:70.20px;top:683.98px;font-size:29.80px;font-weight:700;color:#333;transform:scaleX(0.9413);transform-origin:0 0;">After</div>
<div class="t" id="b30s" style="left:114.00px;top:755.44px;font-size:25.00px;font-weight:700;color:#fff;transform:scaleX(0.9067);transform-origin:0 0;">30s</div>
<div class="t" id="b5m" style="left:239.00px;top:755.44px;font-size:25.00px;font-weight:700;color:#333;transform:scaleX(0.9168);transform-origin:0 0;">5m</div>
<div class="t" id="b30m" style="left:354.50px;top:755.44px;font-size:25.00px;font-weight:700;color:#333;transform:scaleX(0.9527);transform-origin:0 0;">30m</div>
<div class="t" id="bother" style="left:466.54px;top:755.44px;font-size:25.00px;font-weight:700;color:#333;transform:scaleX(0.9629);transform-origin:0 0;">Other</div>
<div class="t" id="inactive" style="left:68.56px;top:853.23px;font-size:30.09px;font-weight:700;color:#333;transform:scaleX(0.8715);transform-origin:0 0;">Inactive Level</div>
<div class="t" id="p15" style="left:566.71px;top:853.23px;font-size:30.09px;font-weight:400;color:#222;transform:scaleX(0.8459);transform-origin:0 0;">15%</div>
<div class="t" id="setback" style="left:69.43px;top:1037.04px;font-size:28.78px;font-weight:400;color:#333;transform:scaleX(0.8708);transform-origin:0 0;">SETBACK</div>
<div class="t" id="cancel" style="left:84.40px;top:1150.39px;font-size:29.07px;font-weight:700;color:#6aaaf0;transform:scaleX(0.8982);transform-origin:0 0;">Cancel</div>
<div class="t" id="apply" style="left:347.00px;top:1150.39px;font-size:29.07px;font-weight:700;color:#fff;transform:scaleX(0.8917);transform-origin:0 0;">Apply Settings</div>
<div class="t" id="btnset" style="left:1614.00px;top:29.04px;font-size:26.89px;font-weight:700;color:#555;transform:scaleX(0.8918);transform-origin:0 0;">Settings</div>
<div class="t" id="btnlive" style="left:1796.33px;top:29.04px;font-size:26.89px;font-weight:700;color:#555;transform:scaleX(0.8745);transform-origin:0 0;">Live</div>
<div class="t" id="lg1" style="left:960.04px;top:885.11px;font-size:26.45px;font-weight:400;color:#333;transform:scaleX(0.9316);transform-origin:0 0;">Battery Station</div>
<div class="t" id="lg2" style="left:1181.24px;top:885.11px;font-size:26.45px;font-weight:400;color:#333;transform:scaleX(0.8791);transform-origin:0 0;">Loading Docks</div>
<div class="t" id="lg3" style="left:1395.91px;top:885.11px;font-size:26.45px;font-weight:400;color:#333;transform:scaleX(0.8942);transform-origin:0 0;">Racking</div>
<div class="t" id="lg4" style="left:1541.70px;top:885.11px;font-size:26.45px;font-weight:400;color:#333;transform:scaleX(0.8640);transform-origin:0 0;">Travel Aisles</div>
</body></html>
